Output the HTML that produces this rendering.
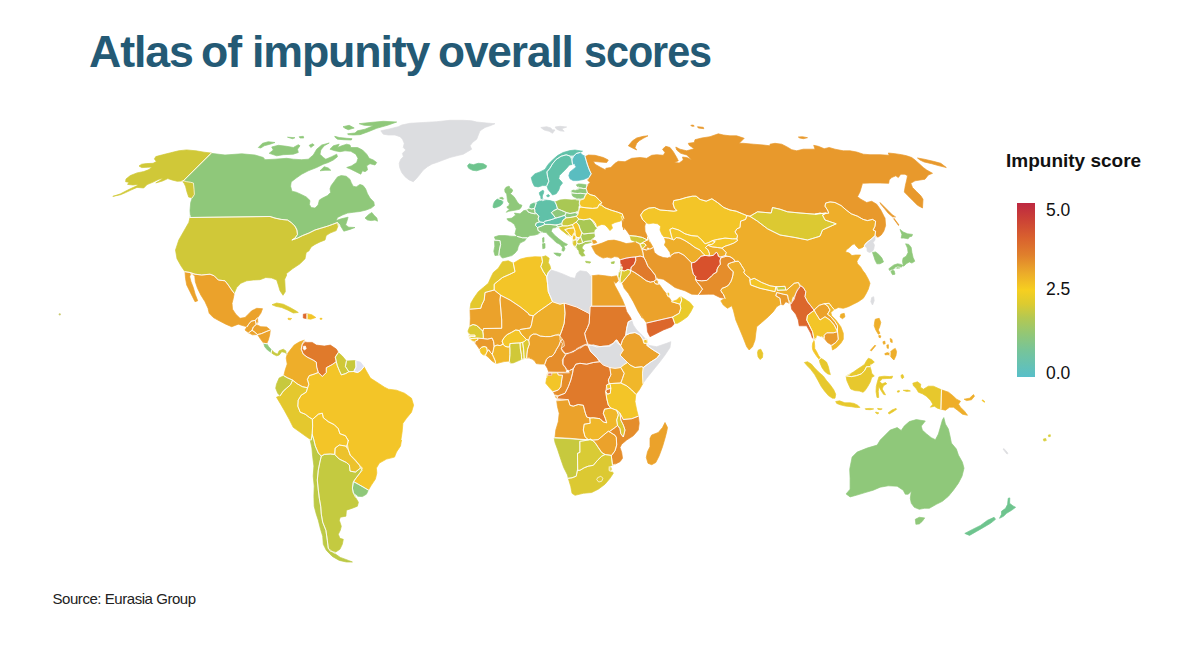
<!DOCTYPE html>
<html><head><meta charset="utf-8"><title>Atlas of impunity overall scores</title>
<style>
html,body{margin:0;padding:0;background:#fff;}
body{width:1200px;height:648px;position:relative;overflow:hidden;font-family:"Liberation Sans",sans-serif;}
#title{position:absolute;left:89px;top:24px;font-size:43.5px;font-weight:bold;color:#245a75;letter-spacing:-1.1px;white-space:nowrap;line-height:56px;}
#title span{position:absolute;top:0;transform-origin:0 0;display:block;}
#lt{position:absolute;left:1006px;top:149px;font-size:19px;font-weight:bold;color:#111;white-space:nowrap;line-height:24px;}
#bar{position:absolute;left:1016.5px;top:203px;width:18.5px;height:174px;background:linear-gradient(to bottom,#bd2841 0%,#cc4335 10%,#d9612e 20%,#e0802c 30%,#ebaa2a 40%,#f6cf20 50%,#dccb30 58%,#b4c852 66%,#93c775 75%,#76c49a 85%,#58bfc9 100%);}
.lb{position:absolute;left:1046px;font-size:17.5px;color:#111;line-height:20px;}
#src{position:absolute;left:52.5px;top:589px;font-size:15px;color:#222;white-space:nowrap;line-height:20px;letter-spacing:-0.45px;}
svg{position:absolute;left:0;top:0;}
</style></head><body>
<div id="title"><span style="left:-0.13px;transform:scaleX(1.0273)">Atlas</span><span style="left:111.95px;transform:scaleX(1.0263)">of</span><span style="left:162.82px;transform:scaleX(1.0282)">impunity</span><span style="left:349.47px;transform:scaleX(1.0163)">overall</span><span style="left:495.1px;transform:scaleX(0.9504)">scores</span></div>
<div id="lt">Impunity score</div>
<div id="bar"></div>
<div class="lb" style="top:200px">5.0</div>
<div class="lb" style="top:278.5px">2.5</div>
<div class="lb" style="top:362.5px">0.0</div>
<div id="src">Source: Eurasia Group</div>
<svg width="1200" height="648" viewBox="0 0 1200 648" stroke-linejoin="round">
<path d="M585 156.7L588.3 155L595 155.3L603.3 157.5L608.3 160L606.7 162.5L600 162L593.3 161.3L595 164.2L600.8 167.5L605.8 170L605.8 168.3L610.8 167.5L615 163.3L618.3 161.3L625 161.7L631.7 158.3L640 157.5L646.7 158.3L651.7 155.3L656.7 154.7L663.3 155.3L665 152.5L662.5 149.2L665.8 146.3L670 147.5L673.3 151.7L676.7 157.5L678.3 160.8L674.2 162.5L679.2 163L683.3 160L682.5 157L686.7 157.5L691.7 159.7L686.7 155L680.8 153.3L676.7 150L675.8 147L680 149.2L686.7 150.8L694.2 148.7L689.2 145.3L688.3 143.3L694.2 142.5L695 139.7L701.7 138L710 136.7L718.3 133.8L723.3 135L730 135.8L736.7 135.8L744.2 138.3L739.2 143.3L743.3 143.3L753.3 144.2L763.3 145L770 145.8L770 144.2L775 143.3L781.7 144.2L786.7 146.7L791.7 149.7L796.7 150.8L803.3 149.2L810 149.2L815 149.2L813.7 145.3L818.3 146.3L824.2 148.7L829.2 147.5L835 149.2L843.3 150.8L850 150.8L856.7 152L863.3 154.2L870 154.7L880 154.7L889.2 155.3L888.3 153L895 153.7L901.7 154.7L906.7 155.8L911.7 157.5L915 160L919.2 163.7L923.3 167.5L926.7 170L932.5 173.3L928.3 175L925 179.2L920 180L915 180.8L910.8 183.3L912.5 187.5L916.7 191.7L920.8 195.8L923 199.2L922.5 208L917.5 205.3L912.5 200.3L907.5 195.3L904.3 192L905.3 185.8L906.7 180L907.5 175.8L905 174.2L900.8 174.2L898.3 177.5L895.8 175.8L891.7 177.5L889.2 180L888.7 183.3L880 183L870 183L862.5 183.3L860 191.7L857.5 196.7L860.8 199.2L866.7 202.5L871.7 201.3L876.7 204.2L880.8 210L884.2 216.7L885 218L885.6 225.6L883.8 231.2L881.2 235L877.5 237.5L875 235.6L875.6 231.2L873.1 230L875 226.2L875.6 221.2L872.5 219.4L867.5 220.6L863.1 219.4L857.5 216.2L851.2 213.8L846.2 210L841.2 205.6L835 202.5L830 201.9L825.6 203.1L825 206.2L827.5 210L828.8 213.1L823.8 213.8L820 213.1L815 214.2L800 213L787.5 211.8L780 209.2L772.5 207.5L771.2 213L757.5 211.8L750 216.2L746.9 215.6L742.5 213.8L736.2 211.2L730 210L723.8 207.5L717.5 202.5L711.9 198.8L706.2 201.2L700 199.4L696.2 196.2L692.5 196.2L686.2 197.5L680 199.4L673.8 200.6L673.1 203.8L674.4 208.1L676.9 210.6L673.8 211.2L667.5 210.6L660 210L654.4 207.5L648.8 208.1L643.8 210.6L640.6 215L642.5 219.4L645.6 222.5L644.8 226.2L645 231.2L647.5 236.9L647.5 240L642.5 237.5L636.2 236.2L630 235.6L626.2 230L622.5 226.2L622.5 220L621.2 216.2L623.8 230L622.5 225L623.8 218.1L622.5 215L622.5 214L617.5 212.1L611.2 210.2L605 207.8L601.5 205.2L599 204.6L601.9 202.8L598.8 199.6L595 195.9L590 194.6L587.2 192.5L586.2 188.1L587.5 185L590 182.5L587.5 180L589.4 176.9L591.2 173.8L589.4 170L587.5 165L586.2 160.6Z" fill="#e8992c" stroke="#e8992c" stroke-width="0.7"/>
<path d="M210.8 153.3L225 155L241.7 153.8L255 155L263.3 157.5L265 159.7L275 159.2L286.7 158.3L293.3 159.2L301.7 159.7L308.3 159.2L313.3 155L316.7 149.2L321.7 145L329.2 143L324.2 145.8L320.8 150L320 154.2L323.3 157.5L325.8 159.2L331.7 156.7L336.7 154.2L337.5 156.7L333.3 160L328.3 162.5L323.3 164.2L316.7 167.5L308.3 170.8L301.7 174.2L296.2 178.1L291.2 181.9L290.6 186.2L291.9 191.2L296.2 192.2L301.2 194.4L306.2 196.9L310 200.6L309.4 204.4L311.2 207.5L315 208.1L318.1 205L319.4 200L322.5 198.1L327.5 195.6L330.6 192.5L330 188.8L331.2 185.6L334.4 181.2L337.5 176.9L341.2 175.6L346.2 176.2L350 179.4L351.2 182.5L353.1 186.2L356.2 186.9L360 184.4L363.1 185.6L365.6 188.8L367.5 193.8L370 198.1L373.8 201.9L374.4 205.6L371.2 208.1L366.2 210L360 211.5L353.8 212.2L347.5 213.1L342.5 215L337.5 217.5L336.2 220.6L341.2 218.8L348.1 217.2L346.9 221.2L345.6 225L348.8 227.2L355 227.5L350 229.4L343.8 231.2L341.9 228.1L340 225L337.5 222.5L332.5 224.4L327.5 226.2L321.2 228.1L315 230L308.8 233.1L302.5 235.6L297.5 238.1L291.9 240L295 238.1L297.5 234.4L296.9 230L295 226.2L291.2 222.5L287.5 220L281.2 219.4L275 218.1L270 216.5L190 217.5L190.4 215.9L190 210.5L190.7 202.5L192.3 197.8L194.4 194.4L194 189.1L193.4 183L190.7 182.3L186.6 181.7L183.3 180.7Z" fill="#8fc87a" stroke="#8fc87a" stroke-width="0.7"/>
<path d="M269.2 153.3L273.3 150L271.7 147L278.3 145.3L286.7 146.3L293.3 147.5L298.3 144.7L300 145.8L297.5 149.2L298.3 152.5L293.3 154.2L283.3 154.7L276.7 155.8Z" fill="#8fc87a" stroke="#8fc87a" stroke-width="0.7"/>
<path d="M258.3 147.5L262.5 143.3L268.3 141.7L275 142.5L270 144.2L264.2 145.8L260.8 148Z" fill="#8fc87a" stroke="#8fc87a" stroke-width="0.7"/>
<path d="M309.2 145.3L312.5 143.7L314.2 145L310.8 147.5Z" fill="#8fc87a" stroke="#8fc87a" stroke-width="0.7"/>
<path d="M287.5 137.2L295 137.7L292.5 138.7Z" fill="#8fc87a" stroke="#8fc87a" stroke-width="0.7"/>
<path d="M299.2 136.7L303.3 136.3L303.7 138L300 138Z" fill="#8fc87a" stroke="#8fc87a" stroke-width="0.7"/>
<path d="M330 149.2L333.3 145.8L339.2 144.2L337.5 147.5L341.7 145.8L346.7 144.2L350 145L350.8 147.5L357.5 147.5L362.5 150L366.7 154.2L369.2 158.3L373.3 160L376.7 162.5L375 165L370 163.7L366.7 165.8L367.5 170L365 171.7L362.5 170.8L360.8 174.2L355.8 171.7L350.8 169.2L346.7 167.5L351.7 165.8L356.7 162.5L358 158.3L355.8 154.2L350.8 151.3L345 150.8L340 151.7L335 150.8Z" fill="#8fc87a" stroke="#8fc87a" stroke-width="0.7"/>
<path d="M320 170.8L324.2 166.7L328.3 168L330.8 170.3L325 170.3Z" fill="#8fc87a" stroke="#8fc87a" stroke-width="0.7"/>
<path d="M359.2 123.7L370 122.5L383.3 121.3L396.7 122L388.3 125L376.7 128.3L368.3 131.7L360 134.7L353.3 135L348.3 134.7L347.5 133.8L355 133L357.5 130.8L365 129.2L373.3 125.8L364.2 125.3Z" fill="#8fc87a" stroke="#8fc87a" stroke-width="0.7"/>
<path d="M343 126.7L349.2 125.3L354.2 128L348.3 129.7L345 128.3Z" fill="#8fc87a" stroke="#8fc87a" stroke-width="0.7"/>
<path d="M334.7 136.3L339.2 137.5L346.7 138.3L352 138.7L351.3 140L343.3 139.7L337.5 139.2L335.3 137.5Z" fill="#8fc87a" stroke="#8fc87a" stroke-width="0.7"/>
<path d="M365 218.1L368.8 214.4L371.9 212.5L373.8 215L376.9 218.1L377.5 221.2L375 220L371.2 220.6L367.5 220Z" fill="#8fc87a" stroke="#8fc87a" stroke-width="0.7"/>
<path d="M211.5 153.1L204.1 152.2L196 150.8L186.6 149.9L178.6 150.8L170.5 152.8L162.5 154.8L155.8 156.6L154.4 158.9L156.4 161.5L153.1 163.3L146.4 163.6L141.7 164.2L139 166L141.7 167.6L147.7 167.3L151.7 166.9L149.1 169.6L143.7 171.6L137 172.9L130.3 175.6L126 179L125.6 181.7L128.9 182.3L127.6 184.4L132.9 185L138.3 184.4L136.3 186.1L130.3 188.8L124.9 191.5L120.2 194L112.8 196.4L120.6 194.7L125.6 192.6L130.9 190.1L137 187.4L143.7 188L147.1 184.6L153.1 182.1L158.5 179.4L163.2 177.9L159.8 180.6L155.8 182.9L162.5 181L167.8 178.6L171.9 179.9L177.2 181.3L181.9 181L183.3 180.7L186.6 181.7L190.7 182.3L193.4 183L194 189.1L194.4 194.4L192.3 197.8L188.7 197.1L186.9 191.7L185.6 186.4L184 183L182.6 181.7Z" fill="#d0c838" stroke="#d0c838" stroke-width="0.7"/>
<path d="M190 217.5L270 216.5L275 218.1L281.2 219.4L287.5 220L291.2 222.5L295 226.2L296.9 230L297.5 234.4L295 238.1L291.9 240L297.5 238.1L302.5 235.6L308.8 233.1L315 230L321.2 228.1L327.5 226.2L332.5 224.4L337.5 222.5L338.1 225.6L336.2 230.6L330 233.1L326.2 235.6L325 240L320 241.9L315 244.4L311.2 246.9L308.8 251L306.2 252.5L305 258.8L300 263.8L292.5 268.8L286.2 273.8L286.7 275L284.7 279.2L285 285L285.3 291.7L283 295.3L280 290.8L278.3 285L276.7 280L271.7 278L265.8 277.5L260 279.7L253.3 280L246.7 280.8L240.8 283.3L236.7 287.5L234.2 293.3L231.7 290L228.3 285L225 280.8L218.3 280L214.2 275.8L210 274.2L201.7 275L195 274.2L190 272.5L185 271.7L181.2 266.2L177 258.8L175.5 250L178.8 240L183.8 231.2L188.8 222.5Z" fill="#d0c838" stroke="#d0c838" stroke-width="0.7"/>
<path d="M185 271.7L190 272.5L195 274.2L201.7 275L210 274.2L214.2 275.8L218.3 280L225 280.8L228.3 285L231.7 290L234.2 293.3L233.3 298.3L232 303.3L232.5 309.2L235.8 314.2L240 318.3L245 317.5L248.3 314.2L251.7 310.8L256.7 308.3L262.5 308.7L260.8 313.3L257.5 317.8L255.3 320.3L251.2 321.2L248.7 324.2L247 326.7L243.3 325.8L238.3 324.2L231.7 326.7L225.8 324.2L219.2 320.8L213.3 317.5L209.2 313.3L208 308.3L205 301.7L200.8 295L197.5 288.3L195.3 281.7L194.8 276.3L192.8 274L190.7 273.7L189.7 276.7L191 281.7L193.3 287.5L195.2 294.2L197.7 300.8L195 301.7L192.5 296.7L190 291.7L186.7 285L185.5 278.3Z" fill="#eba22b" stroke="#eba22b" stroke-width="0.7"/>
<path d="M247 326.7L248.7 324.2L251.2 321.2L255.3 320.3L256.2 324.5L253.3 327L252 330.3L248.7 332.8L245 330Z" fill="#eba22b" stroke="#eba22b" stroke-width="0.7"/>
<path d="M255.3 320.3L257.5 317.8L257.8 322.5L256.2 324.5Z" fill="#eba22b" stroke="#eba22b" stroke-width="0.7"/>
<path d="M253.3 327L256.2 324.5L260.8 326.7L266.7 327L270.3 330L267 331.2L261.2 333.7L257.5 334.5L254.2 331.7L252 330.3Z" fill="#eba22b" stroke="#eba22b" stroke-width="0.7"/>
<path d="M248.7 332.8L252 330.3L254.2 331.7L257.5 334.5L252.5 334.8Z" fill="#eba22b" stroke="#eba22b" stroke-width="0.7"/>
<path d="M257.5 334.5L261.2 333.7L267 331.2L270.3 330L269.7 335L268.3 340L266.7 343.7L263.7 343.3L260 338.3Z" fill="#eba22b" stroke="#eba22b" stroke-width="0.7"/>
<path d="M263.7 343.3L266.7 343.7L268.7 346.7L271.7 350L271.2 352.5L267.5 350L264.7 346.7Z" fill="#8fc87a" stroke="#8fc87a" stroke-width="0.7"/>
<path d="M271.7 350L274.2 352.5L277.5 354.2L279.2 350.8L283.3 349.2L286.3 351.3L287 354.2L285 352.5L281.7 351.7L279.2 355L276.7 355.8L273.3 354.2L271.2 352.5Z" fill="#c7c93e" stroke="#c7c93e" stroke-width="0.7"/>
<path d="M272 304.7L276.7 303L283.3 304.2L290 307.5L295.8 310.8L298.3 312.5L293.3 313L287.5 310L281.7 307.5L275.8 306.3Z" fill="#dcc932" stroke="#dcc932" stroke-width="0.7"/>
<path d="M303.3 314.2L307 313.7L307 318.7L303.3 318Z" fill="#dc672c" stroke="#dc672c" stroke-width="0.7"/>
<path d="M307 313.7L311.7 314.7L315.8 317.5L310.8 319.2L307 318.7Z" fill="#f3c528" stroke="#f3c528" stroke-width="0.7"/>
<path d="M288 318.2L291.7 318.5L290.3 319.8L288.3 319.5Z" fill="#f3c528" stroke="#f3c528" stroke-width="0.7"/>
<path d="M320 318.3L322 318.3L322 319.2L320 319.2Z" fill="#f3c528" stroke="#f3c528" stroke-width="0.7"/>
<path d="M309.2 375.7L314.2 374.1L318.3 372.5L322.3 376.5L326.3 372.5L326.3 367.7L332.3 364.5L336.3 361.7L337.3 365.7L339.3 370.5L341.3 374.9L345.8 373.5L348.8 371.7L353.8 371.5L357.6 372.5L360.8 370.5L364 366.7L366.4 371.1L370.4 378.1L378.4 383.2L384.5 387.2L388.5 389.2L396.5 390.2L404.5 393.2L411.5 398.2L413.6 405.2L411.5 412.2L406.5 418.3L402.9 423.3L402.1 432.3L400.5 442.3L396.5 450.4L388.5 456.4L382.5 460L401.5 440L400.5 446L396.5 452L394.5 457.1L386.5 459.1L379.4 463.1L376.4 468.1L376.8 473.1L375.4 479.1L371.4 485.1L368.4 490.1L364 487.5L358.8 484.5L353.8 481.5L356 478.1L360.4 472.1L362.4 468.1L359.4 465.1L355.4 460.1L350.4 455.1L348.4 450L347.4 444L348.4 440L348.4 440.7L345.4 435.7L339.9 433.7L338.3 428.7L334.3 424.7L328.3 421.7L323.3 417.7L322.3 413.2L318.3 414.2L312.6 419.3L309.2 417.3L305.2 414.2L300.2 412.2L297.8 406.2L298.2 400.2L301.2 395.2L306.2 392.2L307.6 387.8L308.8 384.2L307.4 379.4Z" fill="#f3c528" stroke="#f3c528" stroke-width="0.7"/>
<path d="M287.2 354.1L290.2 350.1L294.2 345.1L299.2 342L304.6 340L302.2 344L301.2 349.1L303.2 354.1L307.2 357.1L313.2 360.1L316.3 362.1L316.7 367.1L318.3 372.5L314.2 374.1L309.2 375.7L307.4 379.4L308.8 384.2L307.6 387.8L302.2 386.6L297.2 383.8L292.6 380.1L287.2 377.7L283.8 375.7L285.2 370.1L287.2 364.1L286.2 358.1Z" fill="#eeae2a" stroke="#eeae2a" stroke-width="0.7"/>
<path d="M304.6 342L307.2 342.4L312.2 342.4L316.3 345.1L324.3 346.1L330.3 345.1L336.3 349.1L338.3 352.5L335.3 357.1L336.3 361.7L332.3 364.5L326.3 367.7L326.3 372.5L322.3 376.5L318.3 372.5L316.7 367.1L316.3 362.1L313.2 360.1L307.2 357.1L303.2 354.1L301.2 349.1L302.2 344.4Z" fill="#e07a2b" stroke="#e07a2b" stroke-width="0.7"/>
<path d="M303.4 346.4L305.4 346.1L306.2 348.5L304.6 350.1L303.2 348.9Z" fill="#ffffff" stroke="#ffffff" stroke-width="0.7"/>
<path d="M338.3 352.5L342.3 356.1L346.4 361.1L345.4 366.5L348.8 371.7L345.8 373.5L341.3 374.9L339.3 370.5L337.3 365.7L336.3 361.7L335.3 357.1Z" fill="#d0c838" stroke="#d0c838" stroke-width="0.7"/>
<path d="M346.4 361.1L355.4 360.5L356 367.1L353.8 371.5L348.8 371.7L345.4 366.5Z" fill="#c7c93e" stroke="#c7c93e" stroke-width="0.7"/>
<path d="M356 361.1L360.4 362.1L364 366.7L360.8 370.5L357.6 372.5L353.8 371.5L356 367.1Z" fill="#dfe1f0" stroke="#dfe1f0" stroke-width="0.7"/>
<path d="M276.5 384.2L279.1 378.1L283.8 375.7L287.2 377.7L292.6 380.1L290.6 384.6L286.6 388.2L283.2 391.2L280.1 395.8L277.7 393.2L275.7 388.2Z" fill="#c7c93e" stroke="#c7c93e" stroke-width="0.7"/>
<path d="M280.1 395.8L283.2 391.2L286.6 388.2L290.6 384.6L292.6 380.1L297.2 383.8L302.2 386.6L307.6 387.8L306.2 392.2L301.2 395.2L298.2 400.2L297.8 406.2L300.2 412.2L305.2 414.2L309.2 417.3L312.6 419.3L312.6 426.3L312.2 434.3L311.2 439.9L307.2 437.3L300.2 432.3L293.2 427.3L289.2 419.3L284.2 410.2L280.1 403.2L276.5 397.2Z" fill="#e4c82e" stroke="#e4c82e" stroke-width="0.7"/>
<path d="M312.6 419.3L318.3 414.2L322.3 413.2L323.3 417.7L328.3 421.7L334.3 424.7L338.3 428.7L339.9 433.7L345.4 435.7L348.4 440.7L348.4 440L347.4 444.4L345.4 446L339.3 445L335.3 448L334.3 454.4L330.3 454L324.3 454.4L321.3 456.1L318.3 453L315.3 446L313.9 440L312.2 434.3L312.6 426.3Z" fill="#f3c528" stroke="#f3c528" stroke-width="0.7"/>
<path d="M335.3 448L339.3 445L345.4 446L348.4 450L350 455.1L354.8 460.1L359.4 465.1L360.4 468.1L355.4 472.1L350 471.1L349.4 465.1L346.4 462.5L339.3 459.1L335.3 455.1Z" fill="#ecc22c" stroke="#ecc22c" stroke-width="0.7"/>
<path d="M311.2 439.9L312.2 434.3L313.9 440L315.3 446L318.3 453L321.3 456.1L319.9 462.1L318.3 470.1L317.3 480.1L318.3 490.1L319.3 498.2L320.7 506.2L321.3 514.2L322.7 522.2L325.9 530.3L327.3 540.3L328.3 548.3L334.3 553.3L340.3 557.4L348.4 560.4L352.4 562L346.4 562L339.3 560.4L332.3 556.4L326.3 550.3L323.3 544.3L322.7 536.3L320.3 528.3L318.3 520.2L316.3 514.2L314.2 506.2L313.9 496.2L314.2 486.1L313.2 476.1L313.9 466.1L312.6 456.1L311.9 448L310.2 440Z" fill="#bcc945" stroke="#bcc945" stroke-width="0.7"/>
<path d="M321.3 456.1L324.3 454.4L330.3 454L334.3 454.4L335.3 455.1L339.3 459.1L346.4 462.5L349.4 465.1L350 471.1L355.4 472.1L360.4 468.1L362.4 470.1L358.4 475.1L354.4 480.1L353.4 481.7L352.4 488.1L353.4 493.2L355.4 497.2L358.4 502.2L357.4 506.2L352.4 508.2L346.4 510.2L345.9 516.2L340.3 517.2L339.3 520.2L341.3 526.3L340.3 530.3L338.3 534.3L339.9 538.3L343.3 539.3L342.3 544.3L339.9 549.3L335.3 552.3L330.3 551.3L328.3 548.3L327.3 540.3L325.9 530.3L322.7 522.2L321.3 514.2L320.7 506.2L319.3 498.2L318.3 490.1L317.3 480.1L318.3 470.1L319.9 462.1Z" fill="#c4ca40" stroke="#c4ca40" stroke-width="0.7"/>
<path d="M353.4 481.7L358.8 484.5L364 487.5L368.4 490.1L366.4 494.2L362.4 496.6L357.4 496.2L353.4 493.2L352.4 488.1Z" fill="#8fc87a" stroke="#8fc87a" stroke-width="0.7"/>
<path d="M59.1 313.8L60.3 313.8L60.3 315L59.1 315Z" fill="#c9c96a" stroke="#c9c96a" stroke-width="0.7"/>
<path d="M502.5 261.7L508.3 260.8L513.3 263.3L515 271.7L510 274.2L502.5 277.5L498.3 280.8L494.2 284.2L494.2 290L485 292.5L484.2 300L481.7 305L480.8 308.3L470 309.2L470.8 303.3L474.2 297.5L478.3 291.7L483.3 287.5L488.3 283.3L490.8 277.5L493.3 272.5L498.3 268.3L500.8 264.2Z" fill="#e4c82e" stroke="#e4c82e" stroke-width="0.7"/>
<path d="M513.3 263.3L520 259.2L526.7 257.5L535 256.7L541.7 257L542.5 261.7L540.8 266.7L543.3 271.7L546.7 276.7L547.5 283.3L548.3 291.7L550.8 297.5L552.5 301.7L546.7 305.8L538.3 311.7L533.3 315.8L529.2 315L528.3 313.3L520 306.7L510 300L500.8 295.3L494.2 290L494.2 284.2L498.3 280.8L502.5 277.5L510 274.2L515 271.7Z" fill="#f3c528" stroke="#f3c528" stroke-width="0.7"/>
<path d="M541.7 257L545.8 255.8L549.2 258.3L548.3 262.5L550 265.8L550.8 269.2L548.3 272.5L546.7 276.7L543.3 271.7L540.8 266.7L542.5 261.7Z" fill="#dcc932" stroke="#dcc932" stroke-width="0.7"/>
<path d="M546.7 276.7L548.3 272.5L550.8 270L556.7 271.7L563.3 274.2L570.8 277.5L575 278.3L576.7 273.3L580 270.8L586.7 271.7L590 275L591.7 275.8L591.7 305.8L590 306.7L589.7 313.7L576.7 307L564.2 303L560 304.2L552.5 301.7L550.8 297.5L548.3 291.7L547.5 283.3Z" fill="#dcdde0" stroke="#dcdde0" stroke-width="0.7"/>
<path d="M591.7 275.8L598.3 275L605 275.8L611.7 276.7L616.7 275.8L618.3 280.8L615.8 283.3L613.3 280.8L615 285.8L618.3 291.7L622.5 300L625 306.2L591.7 306.2Z" fill="#eba22b" stroke="#eba22b" stroke-width="0.7"/>
<path d="M591.7 306.2L625 306.2L626.7 311.7L630 316.7L631.7 320L628.3 321.7L626.7 328.3L625.8 335L622.5 340L620.8 345.3L617.5 343.3L615.8 340L613.3 343.3L610 346.2L603.3 346.2L596.7 347L591.7 345.3L587.5 343.7L585.8 338.3L584.7 333.3L587.5 327.5L589.2 323.3L589.7 313.7L590 306.7Z" fill="#e07a2b" stroke="#e07a2b" stroke-width="0.7"/>
<path d="M564.2 303L576.7 307L589.7 313.7L589.2 323.3L587.5 327.5L584.7 333.3L585.8 338.3L587.5 343.7L583.3 345.3L576.7 348.7L570 352L565 353L561.3 348.7L562.5 343.7L560 340L560 335.3L562 330L564.2 323.3L565 313.3Z" fill="#e07a2b" stroke="#e07a2b" stroke-width="0.7"/>
<path d="M533.3 315.8L538.3 311.7L546.7 305.8L552.5 301.7L560 304.2L564.2 303L565 313.3L564.2 323.3L562 330L560 335.3L555.3 335.1L550.3 336.6L545.3 336.6L540.3 336.1L536.2 334.1L533.2 334.1L530.2 336.1L528.7 340.1L526.4 339.6L524.2 337.1L521.2 334.1L519.2 330.5L520.2 329.5L526.2 328.5L530.2 328L531.7 324L531.7 323.3Z" fill="#eeae2a" stroke="#eeae2a" stroke-width="0.7"/>
<path d="M500.8 295.3L510 300L520 306.7L528.3 313.3L529.2 315L533.3 315.8L531.7 323.3L531.7 324L530.2 328L526.2 328.5L520.2 329.5L519.2 330.5L515.7 330L511.2 332.5L507.2 334.6L504.1 337.6L502.1 341.1L503.1 344.1L500.1 345.6L497.1 345.1L494.1 346.3L493.6 341.6L492.1 338.1L487.6 339.1L483.3 338.6L483.3 335.1L482.9 331L483.6 328.5L501.7 328.3L501.7 320L500 300Z" fill="#eba22b" stroke="#eba22b" stroke-width="0.7"/>
<path d="M470 309.2L480.8 308.3L481.7 305L484.2 300L485 292.5L494.2 290L500.8 295.3L500 300L501.7 320L501.7 328.3L483.6 328.5L482.9 331L482.6 331L480.1 328.5L476.6 325.5L473 324.5L470 326L470.3 318.3Z" fill="#eba22b" stroke="#eba22b" stroke-width="0.7"/>
<path d="M468 331L470 326L473 324.5L476.6 325.5L480.1 328.5L482.6 331L483.3 335.1L483.3 338.6L477.6 338.1L471 338.6L469 336.6L475.1 336.6L474.9 335.1L470 335.1L468.5 333Z" fill="#dcc932" stroke="#dcc932" stroke-width="0.7"/>
<path d="M469 336.6L475.1 336.6L474.9 335.1L470 335.1L468.8 335.2Z" fill="#f3c528" stroke="#f3c528" stroke-width="0.7"/>
<path d="M469.5 337.8L471 338.6L477.6 338.1L477.9 339.8L475.1 341.3L472 340.6L470 339.1Z" fill="#f3c528" stroke="#f3c528" stroke-width="0.7"/>
<path d="M475.1 341.3L477.9 339.8L477.6 338.1L483.3 338.6L487.6 339.1L492.1 338.1L493.6 341.6L494.1 346.3L493.3 350.3L492.3 354.3L490.3 352.3L488.9 349.8L487.3 351.1L486.6 347.3L484.1 346.5L481.6 347.3L479.6 349.3L477.1 345.6L475.1 343.1Z" fill="#e8992c" stroke="#e8992c" stroke-width="0.7"/>
<path d="M479.6 349.3L481.6 347.3L484.1 346.5L486.6 347.3L487.3 351.1L485.6 354.9L483.6 355.3L481.1 353.1Z" fill="#f3c528" stroke="#f3c528" stroke-width="0.7"/>
<path d="M485.6 354.9L487.3 351.1L488.9 349.8L490.3 352.3L492.3 354.3L493.8 357.6L495.3 361.1L495.6 363.3L492.1 361.1L488.6 357.6Z" fill="#eeae2a" stroke="#eeae2a" stroke-width="0.7"/>
<path d="M492.3 354.3L493.3 350.3L494.1 346.3L497.1 345.1L500.1 345.6L503.1 344.1L505.1 346.3L508.2 347.1L509.7 346.3L509.9 349.1L509.9 354.6L509.4 361.1L504.1 361.6L500.1 362.6L496.1 363.6L495.6 363.3L495.3 361.1L493.8 357.6Z" fill="#f0b72a" stroke="#f0b72a" stroke-width="0.7"/>
<path d="M503.1 344.1L502.1 341.1L504.1 337.6L507.2 334.6L511.2 332.5L515.7 330L519.2 330.5L521.2 334.1L524.2 337.1L526.4 339.6L524.2 341.6L522.7 342.3L520.2 342.9L516.2 343.1L509.9 343.6L509.7 346.3L508.2 347.1L505.1 346.3Z" fill="#f3c528" stroke="#f3c528" stroke-width="0.7"/>
<path d="M509.9 343.6L516.2 343.1L520.2 342.9L520.4 349.1L521.4 354.6L521.6 359.3L517.7 361.1L513.2 362.9L510.2 363.1L509.4 361.1L509.9 354.6L509.9 349.1L509.7 346.3Z" fill="#d0c838" stroke="#d0c838" stroke-width="0.7"/>
<path d="M520.2 342.9L522.7 342.3L523.6 349.1L523.9 354.6L524.2 358.6L521.6 359.3L521.4 354.6L520.4 349.1Z" fill="#dcc932" stroke="#dcc932" stroke-width="0.7"/>
<path d="M522.7 342.3L524.2 341.6L526.4 339.6L528.7 340.1L529.4 344.1L527.6 349.1L526.9 354.1L526.6 358.3L524.2 358.6L523.9 354.6L523.6 349.1Z" fill="#dcc932" stroke="#dcc932" stroke-width="0.7"/>
<path d="M528.7 340.1L530.2 336.1L533.2 334.1L536.2 334.1L540.3 336.1L545.3 336.6L550.3 336.6L555.3 335.1L558.8 334.1L560.3 336.6L562.3 339.1L560.3 341.6L559 345.3L556.5 349.3L554.5 353.3L552 356.3L549 356.8L546.5 359.3L544.8 364.1L540.3 364.1L536.2 363.6L534.8 361.1L532.2 359.1L529.2 358.1L526.6 358.3L526.9 354.1L527.6 349.1L529.4 344.1Z" fill="#eba22b" stroke="#eba22b" stroke-width="0.7"/>
<path d="M560.3 341.6L562.3 339.1L563.8 341.6L564.3 346.1L561.3 348.1L562.3 351.1L565.4 354.6L563.8 357.6L562.3 360.1L562.8 364.1L565.4 367.2L566.5 370.7L564.3 372.2L556.3 372.2L548.8 372L547.3 368.2L544.8 364.1L546.5 359.3L549 356.8L552 356.3L554.5 353.3L556.5 349.3L559 345.3Z" fill="#e58d2b" stroke="#e58d2b" stroke-width="0.7"/>
<path d="M547.5 373.3L557.5 372.8L558.3 375L562.5 375.3L561.7 380L560.8 386.7L558.3 390L553.3 391.7L550 388.3L545.8 383.3L546.7 377.5Z" fill="#f3c528" stroke="#f3c528" stroke-width="0.7"/>
<path d="M548.3 372.7L551.8 372.7L551.8 375.2L548.1 375.2Z" fill="#dc672c" stroke="#dc672c" stroke-width="0.7"/>
<path d="M557.5 372.8L569.2 372.8L570 370.3L573.3 368.7L572.5 373.3L570.8 380L568.3 386.7L565 393.3L558.3 395.8L555 395L553.3 391.7L558.3 390L560.8 386.7L561.7 380L562.5 375.3L558.3 375Z" fill="#e58d2b" stroke="#e58d2b" stroke-width="0.7"/>
<path d="M565.8 355L573.3 352.5L580 348.3L585 345L588.3 345.8L590.8 351.7L596.7 357.5L600 361.7L593.3 362.5L586.7 364.2L580 363.3L575.8 364.2L573.3 368.7L570 370.3L566.7 369.2L563 365L563.3 358.3Z" fill="#e07a2b" stroke="#e07a2b" stroke-width="0.7"/>
<path d="M588.3 345.8L593.3 345L600 346.7L608.3 345.8L613.3 343.3L616.7 340L620 345L623.3 350L620 355L623.3 358.3L627.5 362.5L623.3 365L620.8 367.5L615 368.3L610 367.5L603.3 365L600 361.7L596.7 357.5L590.8 351.7Z" fill="#dcdde0" stroke="#dcdde0" stroke-width="0.7"/>
<path d="M620.8 345.3L622.5 340.3L625.8 335.3L630 333.3L635 332.5L640 335L643.3 340L644.2 343.3L647.5 343.3L648.3 346.7L646.7 345L653.3 350L660 354.2L656.7 358.3L650 362.5L643.3 367.5L641.7 366.7L635 367.5L630 365L627.5 362.5L623.3 358.3L620 355L623.3 350L620 345L616.7 340Z" fill="#eba22b" stroke="#eba22b" stroke-width="0.7"/>
<path d="M626.7 328.3L628.3 322L631.7 320.3L633.3 325L636.7 330L641.7 335L645 338.3L646.7 339.2L643.3 340L640 335L635 332.5L630 333.3L625.8 335Z" fill="#dcdde0" stroke="#dcdde0" stroke-width="0.7"/>
<path d="M643.3 340L646.7 339.2L647.5 343.3L644.2 343.3Z" fill="#f3c528" stroke="#f3c528" stroke-width="0.7"/>
<path d="M646.7 345L656.7 346.7L666.7 343.3L670.8 341.7L670 347.5L665 355L660 361.7L653.3 370L646.7 378.3L643 383.3L642.5 373.3L643.3 367.5L650 362.5L656.7 358.3L660 354.2L653.3 350L648.3 346.7L647.5 343.3Z" fill="#dcdde0" stroke="#dcdde0" stroke-width="0.7"/>
<path d="M620.8 367.5L623.3 365L627.5 362.5L630 365L635 367.5L641.7 366.7L643.3 367.5L642.5 373.3L643 383.3L639.2 390L635.8 394.2L631.7 390L626.7 385.8L620.8 383L622.5 378.3L624.2 373.3Z" fill="#f0b72a" stroke="#f0b72a" stroke-width="0.7"/>
<path d="M610 367.5L615 368.3L620.8 367.5L624.2 373.3L622.5 378.3L620.8 383L615 383.3L609.2 383.7L608.3 380L610.8 375Z" fill="#eba22b" stroke="#eba22b" stroke-width="0.7"/>
<path d="M573.3 368.7L575.8 364.2L580 363.3L586.7 364.2L593.3 362.5L600 361.7L603.3 365L610 367.5L610.8 375L608.3 380L609.2 383.7L606.7 385L605.8 391.7L606.7 398.3L608.3 405L610.8 408L604.5 409.2L603.3 413.3L605.3 418.3L606.7 422.8L603.3 422L600 418.7L593.3 417.8L590 418L586.7 417L585 412L583.3 405.3L578.3 404.5L573.3 406.2L570 405.3L568.3 399.7L556.7 398.7L558.3 395.8L565 393.3L568.3 386.7L570.8 380L572.5 373.3Z" fill="#e07a2b" stroke="#e07a2b" stroke-width="0.7"/>
<path d="M606.7 385L609.2 383.7L610.3 384.7L610.8 388.3L607.5 389.2Z" fill="#f3c528" stroke="#f3c528" stroke-width="0.7"/>
<path d="M606.7 389.7L610.8 388.3L610.3 393.3L607.5 394.2L605.8 391.7Z" fill="#e07a2b" stroke="#e07a2b" stroke-width="0.7"/>
<path d="M609.2 383.7L615 383.3L620.8 383L626.7 385.8L631.7 390L635.8 394.2L635 401.7L636.7 410L638.3 416.2L631.7 418.7L623.3 419.5L620 413.3L616.7 410.3L610.8 408L608.3 405L606.7 398.3L605.8 391.7L607.5 394.2L610.3 393.3L610.8 388.3L610.3 384.7Z" fill="#f3c528" stroke="#f3c528" stroke-width="0.7"/>
<path d="M556.7 400.8L568.3 399.7L570 405.3L573.3 406.2L578.3 404.5L583.3 405.3L585 412L586.7 417L590 418L590 423.3L584.2 424.2L583.3 430L585 436.7L588.3 439.7L580 439.2L570 438.3L555 437.5L555.8 430L558.3 421.7L559.2 413.3L557.5 406.7Z" fill="#eba22b" stroke="#eba22b" stroke-width="0.7"/>
<path d="M555 395.8L557.5 396.7L556.7 398.7Z" fill="#eba22b" stroke="#eba22b" stroke-width="0.7"/>
<path d="M590 418L593.3 417.8L600 418.7L603.3 422L606.7 422.8L605.3 418.3L603.3 413.3L604.5 409.2L610.8 408L616.7 410.3L618.3 415L616.7 420L617.5 425.3L615.8 427L609.2 431.7L608.3 431.2L603.3 435.3L598.3 439.5L593.3 440L590.8 440L588.3 439.7L585 436.7L583.3 430L584.2 424.2L590 423.3Z" fill="#f0b72a" stroke="#f0b72a" stroke-width="0.7"/>
<path d="M616.7 410.3L620 413.3L620.8 420L623.3 425L625 430L623.3 437L620.8 433.7L620 428.7L617.5 425.3L616.7 420L618.3 415Z" fill="#dcc932" stroke="#dcc932" stroke-width="0.7"/>
<path d="M623.3 419.5L631.7 418.7L638.3 416.2L639.2 423.3L638.3 430L633.3 435.8L626.7 440L621.7 444.2L620 447.5L621.7 452.5L622.5 458.3L620 461.7L615 464.2L612.5 465L611.3 455.8L615 450.8L616.7 445L616.3 437.5L615 435.3L609.2 431.7L615.8 427L617.5 425.3L620 428.7L620.8 433.7L623.3 437L625 430L623.3 425L620.8 420L620 413.3Z" fill="#e58d2b" stroke="#e58d2b" stroke-width="0.7"/>
<path d="M598.3 439.5L603.3 435.3L608.3 431.2L609.2 431.7L615 435.3L616.3 437.5L616.7 445L615 450.8L611.3 455.8L610.8 455.3L605 454.5L601.7 452.5L598.3 447.5L595 442.5L590.8 439.2L590.8 440L593.3 440Z" fill="#eba22b" stroke="#eba22b" stroke-width="0.7"/>
<path d="M554.2 438L569.2 438.7L579.2 439.5L588.3 439.5L590.8 439.2L586.7 440.3L580 441.3L579.7 452.5L577.5 453.3L577.5 470L576.2 476.2L572 477.8L568.3 478.3L567.5 475L563.7 467.5L560.8 459.2L557.5 449.2L555 442.5Z" fill="#c7c93e" stroke="#c7c93e" stroke-width="0.7"/>
<path d="M580 441.3L586.7 440.3L590.8 439.2L595 442.5L598.3 447.5L601.7 452.5L605 454.5L601.7 456.2L597.5 460.3L593.3 465.3L588.3 466.2L584.2 467.8L580 470.3L577.8 470.3L577.5 453.3L579.7 452.5Z" fill="#d9cb35" stroke="#d9cb35" stroke-width="0.7"/>
<path d="M577.8 470.3L580 470.3L584.2 467.8L588.3 466.2L593.3 465.3L597.5 460.3L601.7 456.2L605 454.5L610.8 455.3L611.3 455.8L612.5 465L609.2 466.7L609.2 470.8L612.5 471.7L613.3 473.3L610 478.3L605 484.2L598.3 489.2L591.7 492.5L583.3 493.3L575 495.3L572 493.3L570.8 486.7L568.3 478.3L572 477.8L576.2 476.2L577.5 470Z" fill="#dcc932" stroke="#dcc932" stroke-width="0.7"/>
<path d="M598 477.5L600.8 476.3L603 478.3L601.7 481.3L598.7 482L597 480Z" fill="#dcc932" stroke="#dcc932" stroke-width="0.7"/>
<path d="M609.2 467.3L611.3 467.7L611.7 469.8L610 470.8L608.8 469.3Z" fill="#ead868" stroke="#ead868" stroke-width="0.7"/>
<path d="M665 422.5L667.5 427.5L666.7 431.7L665 438.3L662.5 446.7L659.2 455.8L655.8 462.5L651.7 464.7L648 463.3L646.3 457.5L647.5 451.7L650 446.7L650 438.3L651.7 435L658.3 432.5L662.5 427.5Z" fill="#eba22b" stroke="#eba22b" stroke-width="0.7"/>
<path d="M380.8 130.8L388.3 129.2L398.3 126.7L401.7 125L410 123.3L423.3 122.5L436.7 121.7L450 120.3L463.3 120.3L471.7 120.8L476.7 122L486.7 123L495 123.7L490 125.8L485 127.5L480 130.8L478.3 135L476.7 139.2L472.5 142.5L470 145.8L471.7 149.2L467.5 151.7L463.3 154.2L456.7 155.8L450 157.5L443.3 160L436.7 162.5L431.7 164.2L427.5 166.7L423.3 170L420 174.2L416.7 178.3L413.3 181.7L409.2 180L405 176.7L401.7 172.5L399.7 167.5L399.2 163.3L400.8 159.2L403.3 156.7L402.5 153.3L405.8 150L403.3 147.5L404.2 143.3L402.5 139.2L400 136.7L395 135L388.3 135L383.3 134.2Z" fill="#dcdde0" stroke="#dcdde0" stroke-width="0.7"/>
<path d="M467.5 165.8L469.2 163.7L473.3 164.7L478.3 163.3L483.3 163.7L486.7 165.8L485.8 168L481.7 169.2L476.7 170.8L472.5 170.3L468.7 168.3Z" fill="#6ec48e" stroke="#6ec48e" stroke-width="0.7"/>
<path d="M540.8 127.5L546.7 126.7L550.8 128L552.5 129.7L555 130L552.5 133.3L549.2 131.3L544.2 130Z" fill="#dcdde0" stroke="#dcdde0" stroke-width="0.7"/>
<path d="M555 127L560 126.3L566.7 127L561.7 128.7L564.2 131.3L560 130.8L556.7 129.2Z" fill="#dcdde0" stroke="#dcdde0" stroke-width="0.7"/>
<path d="M531.2 177.5L535 173.8L540 171.9L545 169.4L548.1 164.4L552.5 160L557.5 155.6L563.1 152.5L570 150.6L575 150L582.5 151.2L580 152.5L576.2 153.5L573.8 156L570 156L566.2 154.8L561.2 156.2L556.2 159.4L552.5 163.8L550 168.1L546.9 171.9L547.5 176.2L548.8 181.2L546.9 185.6L542.5 185.6L538.1 186.9L534.4 186.2L532.5 182.5Z" fill="#60c1a8" stroke="#60c1a8" stroke-width="0.7"/>
<path d="M547.5 176.2L546.9 171.9L550 168.1L552.5 163.8L556.2 159.4L561.2 156.2L566.2 154.8L570 156L571.9 160L572.5 164.4L569.4 165L566.2 168.8L562.5 172.5L559.4 175.6L558.8 178.8L561.2 181.2L562.5 183.1L560 186.2L558.8 190L556.2 193.8L552.5 195L550.6 192.5L548.1 189.4L546.9 185.6L548.8 181.2Z" fill="#60c1a8" stroke="#60c1a8" stroke-width="0.7"/>
<path d="M573.8 156L576.2 153.5L580 152.5L582.5 155L585 156.2L586.2 160.6L587.5 165L589.4 170L591.2 173.8L589.4 176.9L583.8 179.4L577.5 180.6L573.1 180.6L570 178.8L568.8 175.6L570 171.9L573.1 169.4L576.2 166.9L574.4 164.4L572.5 164.4L571.9 160Z" fill="#5abdc0" stroke="#5abdc0" stroke-width="0.7"/>
<path d="M539.2 192.8L540.7 191.6L542.9 190.3L543.8 191L543.5 193.4L542.6 195L542.3 197.1L542.9 199L543.8 200.5L542 200.7L541 199L540.7 196.5L539.8 195Z" fill="#60c1a8" stroke="#60c1a8" stroke-width="0.7"/>
<path d="M546.6 195.4L548.5 194.5L549.6 195.6L549 196.7L547.1 196.7Z" fill="#60c1a8" stroke="#60c1a8" stroke-width="0.7"/>
<path d="M576.4 184.8L578.5 183.9L581.6 184.1L584.7 184.5L586.7 185.1L586.4 187.3L585.8 188.5L583.5 188.6L581 188L578.5 187.9L578.5 187L577 186.1Z" fill="#8fc87a" stroke="#8fc87a" stroke-width="0.7"/>
<path d="M571.1 191.3L573 190.1L575.4 190.4L577.9 189.6L578.5 187.9L581 188L583.5 188.6L585.8 188.5L586.7 190.4L587.3 192.5L587.5 193L585.9 193.9L583.5 193.6L580.4 193.3L577.3 193.5L574.2 193.2L571.7 192.7Z" fill="#8fc87a" stroke="#8fc87a" stroke-width="0.7"/>
<path d="M571.7 194.4L571.7 192.7L574.2 193.2L577.3 193.5L580.4 193.3L583.5 193.6L585.9 193.9L586.2 194.1L585 195.6L584.1 197.5L582.8 198.8L580.4 199.1L577.9 198.8L575.4 197.6L573 196.4Z" fill="#8fc87a" stroke="#8fc87a" stroke-width="0.7"/>
<path d="M580 200.2L584 199L585.2 195.9L587.2 192.5L590 194.6L595 195.9L598.8 199.6L601.9 202.8L599 204.6L597.5 207.8L592.5 208.4L586.2 207.8L581.2 207.1L579.4 203.8Z" fill="#f3c528" stroke="#f3c528" stroke-width="0.7"/>
<path d="M579.4 208.1L581.2 207.1L586.2 207.8L592.5 208.4L597.5 207.8L599 204.6L601.5 205.2L605 207.8L611.2 210.2L617.5 212.1L622.5 214L622.5 215L623.8 218.1L620 221.2L615 222.5L611.2 224.4L612.5 228.1L610 230.6L607.5 227.5L605 225L601.9 224.4L598.8 225.6L596.2 226.9L595.6 223.8L593.1 220.6L590 218.8L583.8 219.8L578.8 219.1L576.2 216.2L578.1 214.4L578.8 210.6L579.4 206.2Z" fill="#f3c528" stroke="#f3c528" stroke-width="0.7"/>
<path d="M590 218.8L593.1 220.6L595.6 223.8L596.2 226.9L595 225L592.5 221.2Z" fill="#f3c528" stroke="#f3c528" stroke-width="0.7"/>
<path d="M555 202.1L560 200L565 199.4L571.9 200L576.2 199.8L580 200.2L579.4 203.8L579.4 208.1L579.4 206.2L578.8 210.6L575 212.5L570 213.5L566.2 212.5L561.9 210.6L557.5 208.8L556.2 204.4Z" fill="#a9c854" stroke="#a9c854" stroke-width="0.7"/>
<path d="M536.2 202.8L540 200.6L542.5 199.4L545 200L550 200.6L555 202.1L556.2 204.4L557.5 208.8L553.8 210.6L551.5 212.5L553.8 215.6L555.6 218.1L553.8 218.8L550 220L545 221.2L543.8 222.5L539.4 221.9L538.1 218.8L538.8 216.2L536.9 213.8L534.8 211.9L534.8 210.2L534.4 208.5L535 206.9Z" fill="#60c1a8" stroke="#60c1a8" stroke-width="0.7"/>
<path d="M530.6 204.4L534.4 202.8L536.2 203.1L535 206.9L534.4 208.5L531.2 209L529.4 207.8Z" fill="#6ec48e" stroke="#6ec48e" stroke-width="0.7"/>
<path d="M526.9 210.2L529.4 208.5L531.2 209L534.4 208.5L534.8 210.2L534.8 211.9L534.8 213.8L531.2 213.1L528.1 211.9Z" fill="#8fc87a" stroke="#8fc87a" stroke-width="0.7"/>
<path d="M551.5 212.5L553.8 210.6L557.5 208.8L561.9 210.6L566.2 212.5L565 215.2L560 216.9L555.6 218.1L553.8 215.6Z" fill="#8fc87a" stroke="#8fc87a" stroke-width="0.7"/>
<path d="M565 215.2L566.2 212.5L570 213.5L575 212.5L578.1 214.4L576.2 216.2L575 216.5L570 217.5L566.2 217.8Z" fill="#8fc87a" stroke="#8fc87a" stroke-width="0.7"/>
<path d="M545 221.2L550 220L553.8 218.8L555.6 218.1L560 216.9L565 215.2L566.2 217.8L563.1 220L561.9 223.1L561.2 223.8L556.2 225L555 225L550 224.4L545 224.4L543.8 222.5Z" fill="#60c1a8" stroke="#60c1a8" stroke-width="0.7"/>
<path d="M536.2 223.1L539.4 221.9L543.8 222.5L545 224.4L541.2 226.2L537.5 227.5L535.6 225.6Z" fill="#60c1a8" stroke="#60c1a8" stroke-width="0.7"/>
<path d="M563.1 220L566.2 217.8L570 217.5L575 216.5L576.2 216.2L578.8 219.1L576.2 222.1L572.5 224.6L567.5 225.9L562.5 225.9L561.9 223.1Z" fill="#c7c93e" stroke="#c7c93e" stroke-width="0.7"/>
<path d="M556.2 225L561.2 223.8L562.5 225.9L558.8 226.9Z" fill="#8fc87a" stroke="#8fc87a" stroke-width="0.7"/>
<path d="M558.8 226.9L562.5 225.9L567.5 225.9L572.5 224.6L573.8 227.8L568.8 228.4L565 229.6L567.5 232.2L570 235.4L572.5 237.2L567.5 235L563.8 231.9L560.6 229.4Z" fill="#dcc932" stroke="#dcc932" stroke-width="0.7"/>
<path d="M565 229.6L568.8 228.4L573.8 227.8L575 231.2L573.1 234.4L572.5 237.2L570 235.4L567.5 232.2Z" fill="#f3c528" stroke="#f3c528" stroke-width="0.7"/>
<path d="M572.5 224.6L576.2 222.1L578.8 225L580 228.8L581.9 232.8L580.6 236.9L578.8 237.5L577.5 237.5L575.6 235.9L575 231.2L573.8 227.8Z" fill="#f3c528" stroke="#f3c528" stroke-width="0.7"/>
<path d="M572.5 237.2L573.1 234.4L575.6 235.9L576.2 237.5L576.2 239.8L573.1 240.2Z" fill="#f3c528" stroke="#f3c528" stroke-width="0.7"/>
<path d="M576.2 237.5L578.8 237.5L578.1 240.2L576.9 240.6L576.2 239.8Z" fill="#dcdde0" stroke="#dcdde0" stroke-width="0.7"/>
<path d="M573.1 240.2L576.2 239.8L576.9 240.6L577.1 243.4L575.6 246.9L573.8 245.6L572.8 242.5Z" fill="#dcc932" stroke="#dcc932" stroke-width="0.7"/>
<path d="M576.9 240.6L578.1 240.2L580.6 236.9L581.9 240.2L582.8 242.8L579 244L577.1 243.4Z" fill="#c7c93e" stroke="#c7c93e" stroke-width="0.7"/>
<path d="M576.2 222.1L578.8 219.1L583.8 219.8L590 218.8L592.5 221.2L595 225L596.9 228.1L594.4 230L593.8 233L588.8 233.4L583.8 234L581.9 232.8L580 228.8L578.8 225Z" fill="#a9c854" stroke="#a9c854" stroke-width="0.7"/>
<path d="M581.9 232.8L583.8 234L588.8 233.4L593.8 233L594.8 236.2L592.5 238.8L591.9 240L590.2 240.9L585.2 241.5L582.8 242.8L581.9 240.2L580.6 236.9Z" fill="#a9c854" stroke="#a9c854" stroke-width="0.7"/>
<path d="M575.6 246.9L577.1 243.4L579 244L582.8 242.8L585.2 241.5L590.2 240.9L591.9 241.9L588.8 243.1L585 243.8L583.1 245.6L581.9 248.1L584.4 250.6L583.1 252.5L585 255.6L581.9 256.2L579.4 253.8L578.8 250.6L576.9 248.8Z" fill="#a9c854" stroke="#a9c854" stroke-width="0.7"/>
<path d="M585.6 261.2L590.6 261.9L590 263.1L586 262.5Z" fill="#a9c854" stroke="#a9c854" stroke-width="0.7"/>
<path d="M538.1 230.6L537.5 227.5L541.2 226.2L545 224.4L550 224.4L555 225L556.2 225L558.8 226.9L556.2 227.5L552.5 228.1L551.2 231.2L554.4 235L558.8 238.8L563.8 242.5L567.5 244.4L566.2 245.6L563.8 245.6L565 248.8L563.8 251.2L561.9 250.6L562.5 247.5L560 244.4L556.2 242.5L552.5 238.8L548.8 235.6L546.2 232.5L542.5 232.2L541.2 232.2Z" fill="#8fc87a" stroke="#8fc87a" stroke-width="0.7"/>
<path d="M553.8 253.1L557.5 253.1L561.2 253.8L560 256.2L556.9 255.6Z" fill="#8fc87a" stroke="#8fc87a" stroke-width="0.7"/>
<path d="M542.5 243.8L545 243.5L545 248.1L542.8 248.8Z" fill="#8fc87a" stroke="#8fc87a" stroke-width="0.7"/>
<path d="M542.5 238.1L544 237.5L544 241.9L542.8 242.5Z" fill="#8fc87a" stroke="#8fc87a" stroke-width="0.7"/>
<path d="M506.9 218.8L511.9 218.1L515.6 215L514.4 213.1L520 213.8L523.8 210.6L526.9 210.2L528.1 211.9L531.2 213.1L534.8 213.8L536.9 213.8L538.8 216.2L538.1 218.8L539.4 221.9L536.2 223.1L535.6 225.6L537.5 227.5L538.1 230.6L541.2 232.2L538.8 233.8L535 235L530 235.6L526.9 237.5L522.5 237.8L517.5 236.5L515 233.8L516.2 228.8L514.4 224.4L511.2 221.9L508.1 220.6Z" fill="#8fc87a" stroke="#8fc87a" stroke-width="0.7"/>
<path d="M494.4 236.9L498.8 235.6L505 235.6L511.2 236.2L517.5 236.5L522.5 237.8L526.5 238.1L525 240.6L520 243.1L518.1 246.9L517.5 250L515 253.1L511.9 255.6L506.9 256.9L502.5 258.1L500.6 256.2L498.8 255L499.4 250L500.6 244.4L500 240.6L495.6 240Z" fill="#8fc87a" stroke="#8fc87a" stroke-width="0.7"/>
<path d="M494.4 240.6L500 240.6L500.6 244.4L499.4 250L498.8 255L495 255.6L493.8 251.2L494.8 246.2Z" fill="#8fc87a" stroke="#8fc87a" stroke-width="0.7"/>
<path d="M611.2 262.2L614.4 261.6L614 263.5L611.5 263.5Z" fill="#a9c854" stroke="#a9c854" stroke-width="0.7"/>
<path d="M493 207.3L493.3 204.7L494.3 202L496 200L498.3 198.7L500 199.3L502.3 200L503 201.3L502.7 203.3L501.3 205L499.3 206.3L496.7 207.3L494.3 207.9Z" fill="#6ec48e" stroke="#6ec48e" stroke-width="0.7"/>
<path d="M498.3 198.7L500 197.5L502.3 197.3L503.9 198.7L503 200L502.3 200L500 199.3Z" fill="#8fc87a" stroke="#8fc87a" stroke-width="0.7"/>
<path d="M504.7 189.3L506 187.3L508.7 186.3L510 187L509.3 188.3L511.3 188.7L512.7 190L512 192L510.3 193.7L512 195L514 196.7L515.7 199.3L517.3 202L519.3 204.3L522 205.3L521 207.7L519.3 209.3L516 210L512 210.7L508.7 211.3L506.3 212.3L508 210.3L510 209.3L507.3 208L507 206.7L509 205.7L509.3 203.3L508 202L507.3 199.3L507 196.7L506.7 194L505 192Z" fill="#8fc87a" stroke="#8fc87a" stroke-width="0.7"/>
<path d="M628.3 145.8L632.5 140.8L636.7 138L643.3 136.3L648 135.8L643.3 138.3L639.2 140.8L636.7 143.3L635 147.5L636.7 150L632.5 148Z" fill="#e8992c" stroke="#e8992c" stroke-width="0.7"/>
<path d="M697.5 126.7L703.3 127.3L703.8 128.7L698.3 128Z" fill="#e8992c" stroke="#e8992c" stroke-width="0.7"/>
<path d="M690.8 125.3L693.3 125L694.2 126.2L691.7 126.2Z" fill="#e8992c" stroke="#e8992c" stroke-width="0.7"/>
<path d="M798.3 137L802.5 136.7L807.5 137.7L803.3 138.7L799.7 138Z" fill="#e8992c" stroke="#e8992c" stroke-width="0.7"/>
<path d="M880 202.5L882.5 205L887.5 210L892.5 215L895.8 217L893.3 217.5L888.3 213.3L884.2 208.3L880.8 204.2Z" fill="#e8992c" stroke="#e8992c" stroke-width="0.7"/>
<path d="M893.8 218.1L899 225L898.5 225.4L893.4 218.5Z" fill="#e8992c" stroke="#e8992c" stroke-width="0.7"/>
<path d="M917.5 158L924.2 159.2L933.3 161.3L940.8 163.3L946.3 167.5L939.2 165.8L931.7 163.7L924.2 162L920 160Z" fill="#e8992c" stroke="#e8992c" stroke-width="0.7"/>
<path d="M640.6 215L643.8 210.6L648.8 208.1L654.4 207.5L660 210L667.5 210.6L673.8 211.2L676.9 210.6L674.4 208.1L673.1 203.8L673.8 200.6L680 199.4L686.2 197.5L692.5 196.2L696.2 196.2L700 199.4L706.2 201.2L711.9 198.8L717.5 202.5L723.8 207.5L730 210L736.2 211.2L742.5 213.8L746.9 215.6L745.6 219.4L740.6 221.2L740 227.5L736.9 228.8L735 231.9L737.5 235.6L736.9 238.8L732.5 238.8L725 238.1L717.5 239.4L712.5 240.6L708.8 242.5L705 243.8L701.9 240L697.5 236.2L691.2 235.6L685 233.8L678.8 230L672.5 228.1L670 229.4L671.2 235L672.5 239.4L668.8 238.1L664.4 237.5L661.9 234.4L660 230L660.6 226.2L657.5 223.8L653.1 223.1L648.8 223.8L645.6 222.5L642.5 219.4Z" fill="#f3c528" stroke="#f3c528" stroke-width="0.7"/>
<path d="M670 229.4L672.5 228.1L678.8 230L685 233.8L691.2 235.6L697.5 236.2L701.9 240L705 243.8L708.8 242.5L712.5 240.6L715 241.9L711.9 244.4L708.1 245L705.6 247.5L708.1 250L709.4 253.5L709.1 255.9L705 255.4L703.8 254.4L700 250L695 247.5L690 243.8L685 240.6L680 238.1L676.2 237.5L673.8 240L672.5 239.4L671.2 235Z" fill="#f3c528" stroke="#f3c528" stroke-width="0.7"/>
<path d="M664.4 237.5L668.8 238.1L672.5 239.4L673.8 240L676.2 237.5L680 238.1L685 240.6L690 243.8L695 247.5L700 250L703.8 254.4L705 255.4L700.9 256.2L698.4 259.1L695 262.1L691.6 262.9L688.8 260L683.8 255L678.8 252.5L674.4 253.1L670.6 255.6L670 252.5L667.5 248.8L664.4 245L665.6 241.9Z" fill="#eeae2a" stroke="#eeae2a" stroke-width="0.7"/>
<path d="M712.5 240.6L717.5 239.4L725 238.1L732.5 238.8L736.9 238.8L737.5 240.6L733.8 243.1L728.8 245L725 246.2L721.9 248.1L717.5 247.5L712.5 246.9L710 246.2L708.1 245L711.9 244.4L715 241.9Z" fill="#f3c528" stroke="#f3c528" stroke-width="0.7"/>
<path d="M705.6 247.5L708.1 245L710 246.2L712.5 246.9L717.5 247.5L721.9 248.1L723.8 250L726.2 252.5L725.4 255.4L723.4 256.2L720 257.1L718.4 256.2L717.9 254.1L716.6 252.4L715 253.4L713.4 255.4L709.1 255.9L709.4 253.5L708.1 250Z" fill="#eeae2a" stroke="#eeae2a" stroke-width="0.7"/>
<path d="M630 235.6L636.2 236.2L642.5 237.5L647.5 240L645 241.2L640.6 243.8L636.2 241.9L631.2 240Z" fill="#d0c838" stroke="#d0c838" stroke-width="0.7"/>
<path d="M640.6 243.8L643.8 243.1L646.2 245L643.8 247.5L642.5 248.8L641.2 246.2Z" fill="#dcc932" stroke="#dcc932" stroke-width="0.7"/>
<path d="M645 241.2L647.5 240L647.5 236.9L650 241.9L653.1 247.5L650.6 248.8L647.5 246.9L646.2 250L642.5 248.8L643.8 247.5L646.2 245L643.8 243.1L640.6 243.8Z" fill="#eba22b" stroke="#eba22b" stroke-width="0.7"/>
<path d="M591.6 246.1L596.1 245.1L602.1 243.1L608.1 240.6L614.1 240.1L620.2 241.6L626.2 243.6L631.2 242.9L636.2 242.1L639.7 244.1L641.2 248.1L643.2 253.1L643.7 257.1L640.2 256.1L635.7 256.9L631.2 257.3L626.2 258.1L620.7 259.6L618.2 257.1L614.6 256.6L611.1 258.1L607.1 257.1L603.1 258.1L599.1 256.1L595.6 253.6L593.6 250.1Z" fill="#eba22b" stroke="#eba22b" stroke-width="0.7"/>
<path d="M591.9 240L595.6 240.6L596.9 242.5L593.1 243.8L591.9 241.9Z" fill="#eba22b" stroke="#eba22b" stroke-width="0.7"/>
<path d="M620.7 259.6L626.2 258.1L631.2 257.3L635.7 256.9L635.7 260.6L634.2 264.6L631.2 267.1L630.7 270.4L627.9 269.4L624.7 270.9L621.7 270.6L622.2 266.9L620.7 267.1L621.2 264.6L620.7 262.6Z" fill="#d8512c" stroke="#d8512c" stroke-width="0.7"/>
<path d="M620.7 267.1L622.2 266.9L621.7 270.6L621.4 270.9L620.2 270.1Z" fill="#dcc932" stroke="#dcc932" stroke-width="0.7"/>
<path d="M619.2 272.2L620.2 270.1L621.4 270.9L621 274.2L620.2 278.2L620 282.2L619.7 281.2L618.7 277.2Z" fill="#d0c838" stroke="#d0c838" stroke-width="0.7"/>
<path d="M621.4 270.9L621.7 270.6L624.7 270.9L627.9 269.4L630.7 270.4L630.2 273.2L627.7 276.2L624.7 279.7L622.2 282.7L620 282.2L620.2 278.2L621 274.2Z" fill="#dcc932" stroke="#dcc932" stroke-width="0.7"/>
<path d="M635.7 256.9L640.2 256.1L643.7 257.1L645.8 261.1L647.8 266.1L651.3 270.1L655.3 275.2L656.3 279.4L653.8 281.4L650.3 282.2L646.2 280.7L640.2 276.2L634.2 272.2L630.7 270.4L631.2 267.1L634.2 264.6L635.7 260.6Z" fill="#e07a2b" stroke="#e07a2b" stroke-width="0.7"/>
<path d="M653.8 281.4L656.3 279.4L657.8 281.2L657.3 284.2L655.3 283.7Z" fill="#eba22b" stroke="#eba22b" stroke-width="0.7"/>
<path d="M622.2 282.7L624.7 279.7L627.7 276.2L630.2 273.2L630.7 270.4L634.2 272.2L640.2 276.2L646.2 280.7L650.3 282.2L653.8 281.4L655.3 283.7L657.3 284.2L659.2 284.2L663.3 290L666.7 294.2L669.2 297.5L671.7 301.7L680 304.2L680.8 308.3L679.2 313.3L672.5 317L646.7 323L643.3 318.3L638.3 310L633.3 300L642.5 318.3L638.3 311.7L633.3 301.7L628.3 293.3L624.2 288.3Z" fill="#eba22b" stroke="#eba22b" stroke-width="0.7"/>
<path d="M646.7 323L672.5 317L674.7 323.3L671.7 326.7L663.3 330L655 334.2L650 336.7L647.5 331.7Z" fill="#dc672c" stroke="#dc672c" stroke-width="0.7"/>
<path d="M680 304.2L681.7 300L680.8 296.7L685 299.2L690 302.5L693.3 306.7L690.8 311.7L687.5 316.7L681.7 320.8L677.5 323.3L674.7 323.3L672.5 317L679.2 313.3L680.8 308.3Z" fill="#eaca2b" stroke="#eaca2b" stroke-width="0.7"/>
<path d="M671.7 301.7L676.7 300L680 296.7L680.8 296.7L681.7 300L680 304.2Z" fill="#f3c528" stroke="#f3c528" stroke-width="0.7"/>
<path d="M667.2 293.3L668.7 293L669 295.8L667.5 296.2Z" fill="#f3c528" stroke="#f3c528" stroke-width="0.7"/>
<path d="M642.5 248.8L646.2 250L650.6 248.8L653.1 247.5L654.4 252.5L658.1 255.6L663.1 257.5L667.5 258.1L670.6 256.9L670.6 255.6L674.4 253.1L678.8 252.5L683.8 255L688.8 260L691.6 262.9L691.7 267.5L692.5 271.2L693.3 274.2L695.8 276.7L695.4 279.2L696.7 281.7L698.8 284.2L700.8 286.7L702.5 289.2L701.2 290.8L699.2 294L698.3 294.5L691.7 294.2L685 290.8L680 289.2L675 287.5L669.2 283.3L663.3 279.2L657.5 278.3L656.3 279.4L655.3 275.2L651.3 270.1L647.8 266.1L645.8 261.1L643.7 257.1L643.1 255Z" fill="#e8992c" stroke="#e8992c" stroke-width="0.7"/>
<path d="M691.7 262.9L695 262.1L698.3 259.2L700.8 256.2L705 255.4L709.2 255.8L713.3 255.4L715 253.3L716.7 252.3L717.9 254.2L718.3 256.2L720 257.1L723.3 256.2L725.4 255.4L726.7 256.2L723.3 257.1L720.8 257.9L720 260.8L720.4 264.2L718.3 266.7L717.1 269.2L716.7 272.1L713.8 273.8L711.7 275.8L709.2 278.3L706.7 280.4L701.7 280.8L697.5 280.4L695.4 279.2L695.8 276.7L693.3 274.2L692.5 271.2L691.7 267.5Z" fill="#d8512c" stroke="#d8512c" stroke-width="0.7"/>
<path d="M695.4 279.2L697.5 280.4L701.7 280.8L706.7 280.4L709.2 278.3L711.7 275.8L713.8 273.8L716.7 272.1L717.1 269.2L718.3 266.7L720.4 264.2L720 260.8L720.8 257.9L723.3 257.1L726.7 256.2L730 256.7L733.3 258.8L735.4 261.5L731.7 262.5L728.3 263.8L727.9 265.8L730 268.8L733.3 271.7L732.9 275L732.1 278.3L730.8 281.7L728.3 285.4L725.4 287.1L722.1 288.3L720.8 290.4L722.1 292.9L723.3 294L725 298.3L720 297.5L713.3 294.2L708.3 294.2L698.3 294.5L699.2 294L701.2 290.8L702.5 289.2L700.8 286.7L698.8 284.2L696.7 281.7Z" fill="#e58d2b" stroke="#e58d2b" stroke-width="0.7"/>
<path d="M735.4 261.5L738.3 261.2L740 262.9L741.7 265.8L743.3 268.3L744.6 270.4L743.8 272.5L745.8 275L750 278.3L750 280L750.8 285L760 288.3L775 291.7L775.8 286.7L776.7 286.7L777.5 290.3L785.8 290L786.7 290L794.2 283.3L798.3 282.5L800 286.7L796.7 291.7L794.2 296.7L792.5 296.7L790.8 303.3L788.3 299.2L787.5 295L783.3 294.2L776.7 292.5L775.8 295.8L780 298.3L780.8 304.2L776.7 306.7L773.3 311.7L768.3 316.7L761.7 322.5L756.7 326.7L755.8 333.3L755 340L752.5 346.7L749.2 350L746.7 346.7L743.3 338L740 330L735.8 320L733.3 310L731.7 305.8L727.5 308.3L723.3 305L720.8 300.8L725 298.3L723.3 294L722.1 292.9L720.8 290.4L722.1 288.3L725.4 287.1L728.3 285.4L730.8 281.7L732.1 278.3L732.9 275L733.3 271.7L730 268.8L727.9 265.8L728.3 263.8L731.7 262.5Z" fill="#eeae2a" stroke="#eeae2a" stroke-width="0.7"/>
<path d="M758.3 350L760.8 349.2L762.8 353.3L762.5 357.5L760 359.5L758 356.7L757.5 352.5Z" fill="#e8c62c" stroke="#e8c62c" stroke-width="0.7"/>
<path d="M750 280L754.2 278.3L761.7 282.5L770 285.8L775.8 286.7L775 291.7L760 288.3L750.8 285Z" fill="#f3c528" stroke="#f3c528" stroke-width="0.7"/>
<path d="M776.7 286.7L785 286.3L785.8 290L777.5 290.3Z" fill="#c7c93e" stroke="#c7c93e" stroke-width="0.7"/>
<path d="M776.7 292.5L783.3 294.2L787.5 295L788.3 299.2L789.2 303.3L785.8 301.7L783.3 305L780.8 304.2L780 298.3L775.8 295.8Z" fill="#e8992c" stroke="#e8992c" stroke-width="0.7"/>
<path d="M735.4 261.5L733.3 258.8L730 256.7L726.7 256.2L725.4 255.4L726.2 252.5L723.8 250L721.9 248.1L725 246.2L728.8 245L733.8 243.1L737.5 240.6L736.9 238.8L737.5 235.6L735 231.9L736.9 228.8L740 227.5L740.6 221.2L745.6 219.4L746.9 215.6L750 216.2L757.5 221.2L767.5 228.8L780 235L795 237.5L807.5 240L820 236.2L822.5 230L836.2 223.8L825 220L822.5 215L826.2 213L815 214.2L820 213.1L823.8 213.8L828.8 213.1L827.5 210L825 206.2L825.6 203.1L830 201.9L835 202.5L841.2 205.6L846.2 210L851.2 213.8L857.5 216.2L863.1 219.4L867.5 220.6L872.5 219.4L875.6 221.2L875 226.2L873.1 230L875.6 231.2L875 235.6L872.5 238.1L870 240L866.2 243.1L864.4 245.6L862.5 247.5L858.8 248.8L856.2 246.2L854.4 243.8L851.9 245L849.4 247.5L846.2 250L845.6 251.9L849.4 253.1L851.9 255.6L855.6 255L860.6 255L858.8 258.1L856.9 261.2L857.5 263.8L860.6 266.9L863.1 271L865 273.3L868.3 279.2L870 283.3L868.3 289.2L865.8 294.2L863.3 298.3L858.3 301.7L853.3 304.2L848.3 306.7L843.3 308.3L838.3 307.5L834.2 309.5L831.7 306.7L829.2 303.3L824.2 303.7L819.2 305.3L815.8 308.3L814.2 310.3L810.8 305.8L807.5 301.7L805 296.7L805.8 291.7L803.3 287.5L800.8 285.8L798.3 282.5L794.2 283.3L786.7 290L785.8 290L785 286.3L776.7 286.7L775.8 286.7L770 285.8L761.7 282.5L754.2 278.3L750 280L750 278.3L745.8 275L743.8 272.5L744.6 270.4L743.3 268.3L741.7 265.8L740 262.9L738.3 261.2Z" fill="#eeae2a" stroke="#eeae2a" stroke-width="0.7"/>
<path d="M750 216.2L757.5 211.8L771.2 213L772.5 207.5L780 209.2L787.5 211.8L800 213L815 214.2L826.2 213L822.5 215L825 220L836.2 223.8L822.5 230L820 236.2L807.5 240L795 237.5L780 235L767.5 228.8L757.5 221.2Z" fill="#dcc932" stroke="#dcc932" stroke-width="0.7"/>
<path d="M864.4 245.6L866.2 243.1L870 240L872.5 238.1L875 235.6L875 240L873.1 242.5L874.4 245L873.8 248.8L872.5 251.2L869.4 252.5L867.2 251.2L866.9 248.1Z" fill="#dcdde0" stroke="#dcdde0" stroke-width="0.7"/>
<path d="M872.5 252.5L875.6 251.9L878.8 254.4L881.9 258.1L883.5 261.9L880 263.8L876.9 263.8L875 260L873.8 256.2Z" fill="#8fc87a" stroke="#8fc87a" stroke-width="0.7"/>
<path d="M900 229.4L903.1 231.9L907.5 233.8L912.5 234.4L911.9 236.2L909.4 236.9L908.1 238.8L903.8 238.1L901.2 238.1L901.9 234.4Z" fill="#8fc87a" stroke="#8fc87a" stroke-width="0.7"/>
<path d="M905.6 243.8L908.8 244.4L911.2 247.5L911.9 252.5L913.1 257.5L914.8 261.2L911.9 263.1L909.4 261.9L906.2 263.8L903.8 266.2L901.2 264.4L897.5 263.8L893.8 265L891.2 266.9L888.8 268.8L890 271L891.9 270L895 268.1L897.5 266.9L901.2 267.5L903.1 265L902.5 261.2L903.1 258.1L906.2 256.2L908.1 252.5L907.5 248.1Z" fill="#8fc87a" stroke="#8fc87a" stroke-width="0.7"/>
<path d="M890.8 270L894.2 270.8L895 274.2L892.5 274.7L891.3 272.5Z" fill="#8fc87a" stroke="#8fc87a" stroke-width="0.7"/>
<path d="M896.7 266.7L900.8 265.8L900 268L896.7 268.3Z" fill="#8fc87a" stroke="#8fc87a" stroke-width="0.7"/>
<path d="M871.7 297.5L873.7 296.7L874.2 300.8L872.5 305L870.8 301.7Z" fill="#dcdde0" stroke="#dcdde0" stroke-width="0.7"/>
<path d="M840.8 314.2L844.2 313.3L845 316.7L842.5 318.7L840 317Z" fill="#eeae2a" stroke="#eeae2a" stroke-width="0.7"/>
<path d="M800.8 285.8L803.3 287.5L805.8 291.7L805 296.7L807.5 301.7L810.8 305.8L814.2 310.3L810.8 312.8L807.5 315.3L806.7 320L809.2 325L812.5 331.7L814.2 340L812.5 338.3L810.8 333.3L806.7 325.8L802.5 325.8L799.2 325.8L798.3 320L795.8 314.2L791.7 309.2L790.8 304.2L794.2 299.2L795.8 293.3L797.5 289.2Z" fill="#dc672c" stroke="#dc672c" stroke-width="0.7"/>
<path d="M807.5 315.3L810.8 312.8L814.2 310.3L815.8 313.3L820 320L825 316.7L830 320L834.2 325L837.5 331.7L833.3 332.8L826.7 332.8L824.2 335.3L824.2 338.3L821.7 336.7L816.7 335L815.8 338.3L814.2 340.8L814.7 345.7L814.7 348.4L816.6 351.6L818.6 355.6L820.6 358.2L819.3 359.5L816.6 356.2L814 352.3L812.7 349.7L812.3 346.4L812.7 343.1L814.2 340L812.5 331.7L809.2 325L806.7 320Z" fill="#f3c528" stroke="#f3c528" stroke-width="0.7"/>
<path d="M815.8 308.3L819.2 305.3L824.2 303.7L827.5 305.8L830 310L827.5 314.2L830.8 316.7L835 321.7L837.5 325.8L837.5 331.7L834.2 325L830 320L825 316.7L820 320L815.8 313.3L814.2 310.3Z" fill="#eba22b" stroke="#eba22b" stroke-width="0.7"/>
<path d="M824.2 303.7L829.2 303.3L831.7 306.7L834.2 309.5L830.8 312.5L831.7 315.8L835.8 320L840.8 326.7L843.3 333.3L843.3 339.2L840.8 343.3L836.7 347.5L832.5 350L831.7 345.8L835.8 342.5L838.3 339.2L837.5 331.7L837.5 325.8L835 321.7L830.8 316.7L827.5 314.2L830 310L827.5 305.8Z" fill="#f0b72a" stroke="#f0b72a" stroke-width="0.7"/>
<path d="M824.2 335.3L826.7 332.8L833.3 332.8L837.5 331.7L838.3 339.2L835.8 342.5L831.7 345L827.5 342.5L824.2 338.3Z" fill="#e8992c" stroke="#e8992c" stroke-width="0.7"/>
<path d="M819.3 359.5L820.6 358.2L823.2 359.5L826.5 362.1L828.4 366.7L829.4 371.3L830.4 374.6L827.8 373.9L824.5 371.3L821.9 367.4L819.9 362.8Z" fill="#e7c82d" stroke="#e7c82d" stroke-width="0.7"/>
<path d="M804.4 362.5L807.5 361.7L811.4 364.1L814.7 368L818.6 372L823.2 375.9L826.5 380.5L830.4 385.1L833.7 389.7L835.7 394.3L835 398.2L832.4 398.2L828.4 395.6L824.5 391L821.2 386.4L818 380.5L814.7 374.6L810.7 369.3L807.5 366.1Z" fill="#e7c82d" stroke="#e7c82d" stroke-width="0.7"/>
<path d="M835.7 401.5L839.6 400.8L844.8 402.8L850.1 402.8L854 403.4L858 405.4L859.9 407.4L856.6 407.6L851.4 406.7L845.5 406.1L840.2 404.8L836.7 403.4Z" fill="#e7c82d" stroke="#e7c82d" stroke-width="0.7"/>
<path d="M865.2 408.7L869.8 408.4L873.7 408.9L870.4 409.7L865.8 409.5Z" fill="#e7c82d" stroke="#e7c82d" stroke-width="0.7"/>
<path d="M877.6 408.4L882.2 408.9L880.2 409.7L877.9 409.3Z" fill="#e7c82d" stroke="#e7c82d" stroke-width="0.7"/>
<path d="M875.7 412L878.9 412.9L877.6 413.9L875.8 413Z" fill="#e7c82d" stroke="#e7c82d" stroke-width="0.7"/>
<path d="M888.1 412.9L892 410L896 408.4L896.6 409.3L892.7 412L889.2 413.9Z" fill="#e7c82d" stroke="#e7c82d" stroke-width="0.7"/>
<path d="M846.1 375.9L851.4 376.6L856.6 375.6L861.2 373.9L864.5 370.7L866.5 366.7L870 366.7L871.1 370L871.7 373.3L874.3 375.9L871.7 377.5L870.4 381.8L867.8 386.4L865.2 390.3L863.2 392.3L859.3 391L854.7 390.6L850.7 389L848.8 385.1L846.8 380.5Z" fill="#e7c82d" stroke="#e7c82d" stroke-width="0.7"/>
<path d="M846.1 375.9L850.1 373.9L853.4 372L857.3 369.3L861.2 366.7L864.5 364.4L866.5 360.8L868.4 358.2L871.7 359.5L874.3 362.1L871.1 364.4L870 366.7L866.5 366.7L864.5 370.7L861.2 373.9L856.6 375.6L851.4 376.6Z" fill="#e7c82d" stroke="#e7c82d" stroke-width="0.7"/>
<path d="M878.9 376.9L884.2 376.2L889.4 376.6L892.7 376.2L891.8 378.3L886.8 378.5L882.2 378.8L879.6 381.8L882.2 383.8L885.5 382.5L886.8 383.8L883.5 385.7L882.2 389L884.2 392.3L885.5 394.9L883.5 394.3L880.9 390.3L878.9 386.4L878.3 391.6L878.7 397.5L877 397.5L876 391.6L876.3 386.4L877.4 381.8Z" fill="#e7c82d" stroke="#e7c82d" stroke-width="0.7"/>
<path d="M901 375.2L902.8 374.6L903.9 377.2L902.3 378.8L901.2 377.2Z" fill="#e7c82d" stroke="#e7c82d" stroke-width="0.7"/>
<path d="M897.3 391L899.3 390.6L899.3 391.9L897.6 392.2Z" fill="#e7c82d" stroke="#e7c82d" stroke-width="0.7"/>
<path d="M903.2 390.3L907.8 390.1L910.4 391L906.5 391.4Z" fill="#e7c82d" stroke="#e7c82d" stroke-width="0.7"/>
<path d="M912.8 383.2L917.4 381.8L920.8 384.2L920.4 387.2L923.4 389.2L928.4 386.2L933.4 386.2L941.5 389.8L940.9 409.2L937.4 408.2L934.4 406.2L930.4 407.2L932.8 404.2L930.4 400.2L926.4 396.2L922.4 393.8L918.4 392.2L916 388.2L913.4 385.8Z" fill="#e7c82d" stroke="#e7c82d" stroke-width="0.7"/>
<path d="M941.5 389.8L948.5 392.2L953.5 396.2L956.5 399.2L960.5 401.2L958.5 404.2L960.5 407.2L964.5 411.2L967.5 415.3L962.5 414.2L957.5 410.2L953.5 407.2L949.5 407.2L945.5 410.2L940.9 409.2Z" fill="#eeae2a" stroke="#eeae2a" stroke-width="0.7"/>
<path d="M964.1 399.2L969.5 398.2L973.5 394.6L974.5 396.2L971.5 399.8L966.5 400.6Z" fill="#eeae2a" stroke="#eeae2a" stroke-width="0.7"/>
<path d="M982.6 399.8L985 401.8L984.2 402.2L982 400.4Z" fill="#f3c528" stroke="#f3c528" stroke-width="0.7"/>
<path d="M875.3 319.2L879.2 318.3L880.8 322.5L879.7 326.7L878.3 330L880 333.3L878.3 334.2L875.8 330L874.2 325.8L874.7 321.7Z" fill="#eeae2a" stroke="#eeae2a" stroke-width="0.7"/>
<path d="M890.1 352.3L892.7 349.7L895.3 348.4L896.6 351.6L896 355.6L894 359.9L892 358.2L890.1 355.6Z" fill="#eeae2a" stroke="#eeae2a" stroke-width="0.7"/>
<path d="M884.8 353.6L888.1 352.3L890.1 352.6L889.7 354.9L887.5 354.7L885.2 354.9Z" fill="#eeae2a" stroke="#eeae2a" stroke-width="0.7"/>
<path d="M882.9 341.8L884.8 341.1L885.2 343.8L883.5 344.2Z" fill="#eeae2a" stroke="#eeae2a" stroke-width="0.7"/>
<path d="M886.8 345.1L888.4 344.7L888.4 348.4L887.1 348.1Z" fill="#eeae2a" stroke="#eeae2a" stroke-width="0.7"/>
<path d="M890.1 338.5L892 339.4L892.3 342.5L890.7 342.1Z" fill="#eeae2a" stroke="#eeae2a" stroke-width="0.7"/>
<path d="M878.9 335.2L880.9 335.9L880.2 337.9L878.9 337.2Z" fill="#eeae2a" stroke="#eeae2a" stroke-width="0.7"/>
<path d="M870.4 350.3L875 345.1L875.7 345.7L871.3 351Z" fill="#eeae2a" stroke="#eeae2a" stroke-width="0.7"/>
<path d="M846.1 493.9L850.1 489.2L850.1 478.2L849.7 469.2L852.1 457.1L857.1 452.1L867.1 448.1L877.2 445.1L880.2 440.1L884.2 436.1L890.2 430.1L897.2 427.6L901.2 430.5L904.2 426.1L909.3 421.6L916.3 419.6L925.3 421L921.3 426.1L922.3 430.1L926.3 433.7L931.3 437.7L935.4 439.7L938.4 434.1L940.4 427.1L942.4 420L943.8 417.6L945.4 424L948.4 429.1L950 436.1L951.4 443.1L956.4 449.1L958.4 455.1L962.4 462.2L964 468.2L962 476.2L958.4 483.2L953.4 490.2L948.4 496.3L942.4 501.3L936.4 504.3L929.3 508.3L924.3 508.3L919.3 509.3L914.3 507.3L911.3 503.3L910.3 498.3L911.3 491.2L908.3 494.2L905.3 494.2L903.2 490.2L897.2 486.2L888.2 485.8L880.2 487.2L873.2 490.2L865.1 492.6L856.1 495.3L850.1 496.9Z" fill="#8fc87a" stroke="#8fc87a" stroke-width="0.7"/>
<path d="M915.3 519.3L919.3 517.3L924.7 517.9L922.3 521.3L919.3 523.9L915.9 524.3Z" fill="#8fc87a" stroke="#8fc87a" stroke-width="0.7"/>
<path d="M1008.2 498.3L1009.8 497.9L1009.6 503.3L1013 505.9L1015.6 507.3L1011.6 510.3L1006.6 513.3L1003.5 516.3L999.5 518.3L1001.5 514.3L1001.5 511.3L1005.6 508.3L1007.6 504.3Z" fill="#6ec48e" stroke="#6ec48e" stroke-width="0.7"/>
<path d="M964.8 533.4L972.5 529.4L980.5 525.4L987.5 520.3L994.1 517.3L995.5 519.3L990.5 523.3L983.5 527.4L976.5 531.4L969.5 535.4Z" fill="#6ec48e" stroke="#6ec48e" stroke-width="0.7"/>
<path d="M1003 449.1L1004.1 448.7L1008 453.3L1007 454.1Z" fill="#dcdde0" stroke="#dcdde0" stroke-width="0.7"/>
<path d="M1043.3 439.1L1045.7 438.5L1046.3 440.5L1043.9 441.1Z" fill="#d8cf3c" stroke="#d8cf3c" stroke-width="0.7"/>
<path d="M1048.3 435.1L1050.3 434.7L1050.3 436.5L1048.7 436.7Z" fill="#d8cf3c" stroke="#d8cf3c" stroke-width="0.7"/>
<path fill="none" stroke="#ffffff" stroke-opacity="0.78" stroke-width="0.9" stroke-linecap="round" d="M877.5 237.5L875 235.6L875.6 231.2L873.1 230L875 226.2L875.6 221.2L872.5 219.4L867.5 220.6L863.1 219.4L857.5 216.2L851.2 213.8L846.2 210L841.2 205.6L835 202.5L830 201.9L825.6 203.1L825 206.2L827.5 210L828.8 213.1L823.8 213.8L820 213.1L815 214.2L800 213L787.5 211.8L780 209.2L772.5 207.5L771.2 213L757.5 211.8L750 216.2L746.9 215.6L742.5 213.8L736.2 211.2L730 210L723.8 207.5L717.5 202.5L711.9 198.8L706.2 201.2L700 199.4L696.2 196.2L692.5 196.2L686.2 197.5L680 199.4L673.8 200.6L673.1 203.8L674.4 208.1L676.9 210.6L673.8 211.2L667.5 210.6L660 210L654.4 207.5L648.8 208.1L643.8 210.6L640.6 215L642.5 219.4L645.6 222.5M647.5 236.9L647.5 240L642.5 237.5L636.2 236.2L630 235.6M622.5 220L621.2 216.2M623.8 218.1L622.5 215L622.5 214L617.5 212.1L611.2 210.2L605 207.8L601.5 205.2L599 204.6L601.9 202.8L598.8 199.6L595 195.9L590 194.6L587.2 192.5L586.2 188.1L587.5 185M587.5 180L589.4 176.9L591.2 173.8L589.4 170L587.5 165L586.2 160.6L585 156.7M340 225L337.5 222.5L332.5 224.4L327.5 226.2L321.2 228.1L315 230L308.8 233.1L302.5 235.6L297.5 238.1L291.9 240L295 238.1L297.5 234.4L296.9 230L295 226.2L291.2 222.5L287.5 220L281.2 219.4L275 218.1L270 216.5L190 217.5L190.4 215.9M183.3 180.7L210.8 153.3M181.9 181L183.3 180.7L186.6 181.7L190.7 182.3L193.4 183L194 189.1L194.4 194.4L192.3 197.8M182.6 181.7L211.5 153.1M234.2 293.3L231.7 290L228.3 285L225 280.8L218.3 280L214.2 275.8L210 274.2L201.7 275L195 274.2L190 272.5L185 271.7M190 217.5L270 216.5L275 218.1L281.2 219.4L287.5 220L291.2 222.5L295 226.2L296.9 230L297.5 234.4L295 238.1L291.9 240L297.5 238.1L302.5 235.6L308.8 233.1L315 230L321.2 228.1L327.5 226.2L332.5 224.4L337.5 222.5L338.1 225.6M257.5 317.8L255.3 320.3L251.2 321.2L248.7 324.2L247 326.7M192.8 274L190.7 273.7M185 271.7L190 272.5L195 274.2L201.7 275L210 274.2L214.2 275.8L218.3 280L225 280.8L228.3 285L231.7 290L234.2 293.3M247 326.7L248.7 324.2L251.2 321.2L255.3 320.3L256.2 324.5L253.3 327L252 330.3L248.7 332.8M257.8 322.5L256.2 324.5L255.3 320.3L257.5 317.8M270.3 330L267 331.2L261.2 333.7L257.5 334.5L254.2 331.7L252 330.3L253.3 327L256.2 324.5M248.7 332.8L252 330.3L254.2 331.7L257.5 334.5M266.7 343.7L263.7 343.3M257.5 334.5L261.2 333.7L267 331.2L270.3 330M271.7 350L271.2 352.5M263.7 343.3L266.7 343.7M286.3 351.3L287 354.2M271.2 352.5L271.7 350M307 313.7L307 318.7M307 318.7L307 313.7M368.4 490.1L364 487.5L358.8 484.5L353.8 481.5L356 478.1L360.4 472.1L362.4 468.1L359.4 465.1L355.4 460.1L350.4 455.1L348.4 450L347.4 444L348.4 440L348.4 440.7L345.4 435.7L339.9 433.7L338.3 428.7L334.3 424.7L328.3 421.7L323.3 417.7L322.3 413.2L318.3 414.2L312.6 419.3L309.2 417.3L305.2 414.2L300.2 412.2L297.8 406.2L298.2 400.2L301.2 395.2L306.2 392.2L307.6 387.8L308.8 384.2L307.4 379.4L309.2 375.7L314.2 374.1L318.3 372.5L322.3 376.5L326.3 372.5L326.3 367.7L332.3 364.5L336.3 361.7L337.3 365.7L339.3 370.5L341.3 374.9L345.8 373.5L348.8 371.7L353.8 371.5L357.6 372.5L360.8 370.5L364 366.7M304.6 340L302.2 344L301.2 349.1L303.2 354.1L307.2 357.1L313.2 360.1L316.3 362.1L316.7 367.1L318.3 372.5L314.2 374.1L309.2 375.7L307.4 379.4L308.8 384.2L307.6 387.8L302.2 386.6L297.2 383.8L292.6 380.1L287.2 377.7L283.8 375.7M338.3 352.5L335.3 357.1L336.3 361.7L332.3 364.5L326.3 367.7L326.3 372.5L322.3 376.5L318.3 372.5L316.7 367.1L316.3 362.1L313.2 360.1L307.2 357.1L303.2 354.1L301.2 349.1L302.2 344.4L304.6 342M346.4 361.1L345.4 366.5L348.8 371.7L345.8 373.5L341.3 374.9L339.3 370.5L337.3 365.7L336.3 361.7L335.3 357.1L338.3 352.5M355.4 360.5L356 367.1L353.8 371.5L348.8 371.7L345.4 366.5L346.4 361.1M364 366.7L360.8 370.5L357.6 372.5L353.8 371.5L356 367.1L356 361.1M283.8 375.7L287.2 377.7L292.6 380.1L290.6 384.6L286.6 388.2L283.2 391.2L280.1 395.8M280.1 395.8L283.2 391.2L286.6 388.2L290.6 384.6L292.6 380.1L297.2 383.8L302.2 386.6L307.6 387.8L306.2 392.2L301.2 395.2L298.2 400.2L297.8 406.2L300.2 412.2L305.2 414.2L309.2 417.3L312.6 419.3L312.6 426.3L312.2 434.3L311.2 439.9M312.6 419.3L318.3 414.2L322.3 413.2L323.3 417.7L328.3 421.7L334.3 424.7L338.3 428.7L339.9 433.7L345.4 435.7L348.4 440.7L348.4 440L347.4 444.4L345.4 446L339.3 445L335.3 448L334.3 454.4L330.3 454L324.3 454.4L321.3 456.1L318.3 453L315.3 446L313.9 440L312.2 434.3L312.6 426.3ZM335.3 448L339.3 445L345.4 446L348.4 450L350 455.1L354.8 460.1L359.4 465.1L360.4 468.1L355.4 472.1L350 471.1L349.4 465.1L346.4 462.5L339.3 459.1L335.3 455.1ZM310.2 440L311.2 439.9L312.2 434.3L313.9 440L315.3 446L318.3 453L321.3 456.1L319.9 462.1L318.3 470.1L317.3 480.1L318.3 490.1L319.3 498.2L320.7 506.2L321.3 514.2L322.7 522.2L325.9 530.3L327.3 540.3L328.3 548.3L334.3 553.3M335.3 552.3L330.3 551.3L328.3 548.3L327.3 540.3L325.9 530.3L322.7 522.2L321.3 514.2L320.7 506.2L319.3 498.2L318.3 490.1L317.3 480.1L318.3 470.1L319.9 462.1L321.3 456.1L324.3 454.4L330.3 454L334.3 454.4L335.3 455.1L339.3 459.1L346.4 462.5L349.4 465.1L350 471.1L355.4 472.1L360.4 468.1L362.4 470.1L358.4 475.1L354.4 480.1L353.4 481.7L352.4 488.1L353.4 493.2L355.4 497.2M357.4 496.2L353.4 493.2L352.4 488.1L353.4 481.7L358.8 484.5L364 487.5L368.4 490.1M513.3 263.3L515 271.7L510 274.2L502.5 277.5L498.3 280.8L494.2 284.2L494.2 290L485 292.5L484.2 300L481.7 305L480.8 308.3L470 309.2M541.7 257L542.5 261.7L540.8 266.7L543.3 271.7L546.7 276.7L547.5 283.3L548.3 291.7L550.8 297.5L552.5 301.7L546.7 305.8L538.3 311.7L533.3 315.8L529.2 315L528.3 313.3L520 306.7L510 300L500.8 295.3L494.2 290L494.2 284.2L498.3 280.8L502.5 277.5L510 274.2L515 271.7L513.3 263.3M550.8 269.2L548.3 272.5L546.7 276.7L543.3 271.7L540.8 266.7L542.5 261.7L541.7 257M590 275L591.7 275.8L591.7 305.8L590 306.7L589.7 313.7L576.7 307L564.2 303L560 304.2L552.5 301.7L550.8 297.5L548.3 291.7L547.5 283.3L546.7 276.7L548.3 272.5L550.8 270M625 306.2L591.7 306.2L591.7 275.8M631.7 320L628.3 321.7L626.7 328.3L625.8 335L622.5 340L620.8 345.3L617.5 343.3L615.8 340L613.3 343.3L610 346.2L603.3 346.2L596.7 347L591.7 345.3L587.5 343.7L585.8 338.3L584.7 333.3L587.5 327.5L589.2 323.3L589.7 313.7L590 306.7L591.7 306.2L625 306.2M565 353L561.3 348.7L562.5 343.7L560 340L560 335.3L562 330L564.2 323.3L565 313.3L564.2 303L576.7 307L589.7 313.7L589.2 323.3L587.5 327.5L584.7 333.3L585.8 338.3L587.5 343.7L583.3 345.3L576.7 348.7M533.3 315.8L538.3 311.7L546.7 305.8L552.5 301.7L560 304.2L564.2 303L565 313.3L564.2 323.3L562 330L560 335.3L555.3 335.1L550.3 336.6L545.3 336.6L540.3 336.1L536.2 334.1L533.2 334.1L530.2 336.1L528.7 340.1L526.4 339.6L524.2 337.1L521.2 334.1L519.2 330.5L520.2 329.5L526.2 328.5L530.2 328L531.7 324L531.7 323.3ZM500.8 295.3L510 300L520 306.7L528.3 313.3L529.2 315L533.3 315.8L531.7 323.3L531.7 324L530.2 328L526.2 328.5L520.2 329.5L519.2 330.5L515.7 330L511.2 332.5L507.2 334.6L504.1 337.6L502.1 341.1L503.1 344.1L500.1 345.6L497.1 345.1L494.1 346.3L493.6 341.6L492.1 338.1L487.6 339.1L483.3 338.6L483.3 335.1L482.9 331L483.6 328.5L501.7 328.3L501.7 320L500 300ZM470 309.2L480.8 308.3L481.7 305L484.2 300L485 292.5L494.2 290L500.8 295.3L500 300L501.7 320L501.7 328.3L483.6 328.5L482.9 331L482.6 331L480.1 328.5L476.6 325.5L473 324.5L470 326M470 326L473 324.5L476.6 325.5L480.1 328.5L482.6 331L483.3 335.1L483.3 338.6L477.6 338.1L471 338.6L469 336.6L475.1 336.6L474.9 335.1L470 335.1L468.5 333M469 336.6L475.1 336.6L474.9 335.1L470 335.1L468.8 335.2ZM472 340.6L470 339.1L469.5 337.8L471 338.6L477.6 338.1L477.9 339.8L475.1 341.3M475.1 343.1L475.1 341.3L477.9 339.8L477.6 338.1L483.3 338.6L487.6 339.1L492.1 338.1L493.6 341.6L494.1 346.3L493.3 350.3L492.3 354.3L490.3 352.3L488.9 349.8L487.3 351.1L486.6 347.3L484.1 346.5L481.6 347.3L479.6 349.3M479.6 349.3L481.6 347.3L484.1 346.5L486.6 347.3L487.3 351.1L485.6 354.9L483.6 355.3M485.6 354.9L487.3 351.1L488.9 349.8L490.3 352.3L492.3 354.3L493.8 357.6L495.3 361.1L495.6 363.3M496.1 363.6L495.6 363.3L495.3 361.1L493.8 357.6L492.3 354.3L493.3 350.3L494.1 346.3L497.1 345.1L500.1 345.6L503.1 344.1L505.1 346.3L508.2 347.1L509.7 346.3L509.9 349.1L509.9 354.6L509.4 361.1M503.1 344.1L502.1 341.1L504.1 337.6L507.2 334.6L511.2 332.5L515.7 330L519.2 330.5L521.2 334.1L524.2 337.1L526.4 339.6L524.2 341.6L522.7 342.3L520.2 342.9L516.2 343.1L509.9 343.6L509.7 346.3L508.2 347.1L505.1 346.3ZM510.2 363.1L509.4 361.1L509.9 354.6L509.9 349.1L509.7 346.3L509.9 343.6L516.2 343.1L520.2 342.9L520.4 349.1L521.4 354.6L521.6 359.3M520.2 342.9L522.7 342.3L523.6 349.1L523.9 354.6L524.2 358.6L521.6 359.3L521.4 354.6L520.4 349.1ZM522.7 342.3L524.2 341.6L526.4 339.6L528.7 340.1L529.4 344.1L527.6 349.1L526.9 354.1L526.6 358.3L524.2 358.6L523.9 354.6L523.6 349.1ZM529.2 358.1L526.6 358.3L526.9 354.1L527.6 349.1L529.4 344.1L528.7 340.1L530.2 336.1L533.2 334.1L536.2 334.1L540.3 336.1L545.3 336.6L550.3 336.6L555.3 335.1L558.8 334.1L560.3 336.6L562.3 339.1L560.3 341.6L559 345.3L556.5 349.3L554.5 353.3L552 356.3L549 356.8L546.5 359.3L544.8 364.1M564.3 372.2L556.3 372.2L548.8 372M544.8 364.1L546.5 359.3L549 356.8L552 356.3L554.5 353.3L556.5 349.3L559 345.3L560.3 341.6L562.3 339.1L563.8 341.6L564.3 346.1L561.3 348.1L562.3 351.1L565.4 354.6L563.8 357.6L562.3 360.1L562.8 364.1L565.4 367.2L566.5 370.7M546.7 377.5L547.5 373.3L557.5 372.8L558.3 375L562.5 375.3L561.7 380L560.8 386.7L558.3 390L553.3 391.7M548.3 372.7L551.8 372.7L551.8 375.2L548.1 375.2ZM570 370.3L573.3 368.7L572.5 373.3L570.8 380L568.3 386.7L565 393.3L558.3 395.8L555 395M553.3 391.7L558.3 390L560.8 386.7L561.7 380L562.5 375.3L558.3 375L557.5 372.8L569.2 372.8M580 348.3L585 345L588.3 345.8L590.8 351.7L596.7 357.5L600 361.7L593.3 362.5L586.7 364.2L580 363.3L575.8 364.2L573.3 368.7L570 370.3M566.7 369.2L563 365L563.3 358.3L565.8 355M588.3 345.8L593.3 345L600 346.7L608.3 345.8L613.3 343.3L616.7 340L620 345L623.3 350L620 355L623.3 358.3L627.5 362.5L623.3 365L620.8 367.5L615 368.3L610 367.5L603.3 365L600 361.7L596.7 357.5L590.8 351.7ZM620.8 345.3L622.5 340.3L625.8 335.3L630 333.3L635 332.5L640 335L643.3 340L644.2 343.3L647.5 343.3L648.3 346.7L646.7 345L653.3 350L660 354.2L656.7 358.3L650 362.5L643.3 367.5L641.7 366.7L635 367.5L630 365L627.5 362.5L623.3 358.3L620 355L623.3 350L620 345L616.7 340ZM645 338.3L646.7 339.2L643.3 340L640 335L635 332.5L630 333.3L625.8 335L626.7 328.3L628.3 322L631.7 320.3M643.3 340L646.7 339.2L647.5 343.3L644.2 343.3ZM643 383.3L642.5 373.3L643.3 367.5L650 362.5L656.7 358.3L660 354.2L653.3 350L648.3 346.7L647.5 343.3L646.7 345M635.8 394.2L631.7 390L626.7 385.8L620.8 383L622.5 378.3L624.2 373.3L620.8 367.5L623.3 365L627.5 362.5L630 365L635 367.5L641.7 366.7L643.3 367.5L642.5 373.3L643 383.3M610 367.5L615 368.3L620.8 367.5L624.2 373.3L622.5 378.3L620.8 383L615 383.3L609.2 383.7L608.3 380L610.8 375ZM573.3 368.7L575.8 364.2L580 363.3L586.7 364.2L593.3 362.5L600 361.7L603.3 365L610 367.5L610.8 375L608.3 380L609.2 383.7L606.7 385L605.8 391.7L606.7 398.3L608.3 405L610.8 408L604.5 409.2L603.3 413.3L605.3 418.3L606.7 422.8L603.3 422L600 418.7L593.3 417.8L590 418L586.7 417L585 412L583.3 405.3L578.3 404.5L573.3 406.2L570 405.3L568.3 399.7L556.7 398.7L558.3 395.8L565 393.3L568.3 386.7L570.8 380L572.5 373.3ZM606.7 385L609.2 383.7L610.3 384.7L610.8 388.3L607.5 389.2ZM606.7 389.7L610.8 388.3L610.3 393.3L607.5 394.2L605.8 391.7ZM638.3 416.2L631.7 418.7L623.3 419.5L620 413.3L616.7 410.3L610.8 408L608.3 405L606.7 398.3L605.8 391.7L607.5 394.2L610.3 393.3L610.8 388.3L610.3 384.7L609.2 383.7L615 383.3L620.8 383L626.7 385.8L631.7 390L635.8 394.2M556.7 400.8L568.3 399.7L570 405.3L573.3 406.2L578.3 404.5L583.3 405.3L585 412L586.7 417L590 418L590 423.3L584.2 424.2L583.3 430L585 436.7L588.3 439.7L580 439.2L570 438.3L555 437.5M555 395.8L557.5 396.7L556.7 398.7M590 418L593.3 417.8L600 418.7L603.3 422L606.7 422.8L605.3 418.3L603.3 413.3L604.5 409.2L610.8 408L616.7 410.3L618.3 415L616.7 420L617.5 425.3L615.8 427L609.2 431.7L608.3 431.2L603.3 435.3L598.3 439.5L593.3 440L590.8 440L588.3 439.7L585 436.7L583.3 430L584.2 424.2L590 423.3ZM616.7 410.3L620 413.3L620.8 420L623.3 425L625 430L623.3 437L620.8 433.7L620 428.7L617.5 425.3L616.7 420L618.3 415ZM615 464.2L612.5 465L611.3 455.8L615 450.8L616.7 445L616.3 437.5L615 435.3L609.2 431.7L615.8 427L617.5 425.3L620 428.7L620.8 433.7L623.3 437L625 430L623.3 425L620.8 420L620 413.3L623.3 419.5L631.7 418.7L638.3 416.2M598.3 439.5L603.3 435.3L608.3 431.2L609.2 431.7L615 435.3L616.3 437.5L616.7 445L615 450.8L611.3 455.8L610.8 455.3L605 454.5L601.7 452.5L598.3 447.5L595 442.5L590.8 439.2L590.8 440L593.3 440ZM554.2 438L569.2 438.7L579.2 439.5L588.3 439.5L590.8 439.2L586.7 440.3L580 441.3L579.7 452.5L577.5 453.3L577.5 470L576.2 476.2L572 477.8L568.3 478.3M580 441.3L586.7 440.3L590.8 439.2L595 442.5L598.3 447.5L601.7 452.5L605 454.5L601.7 456.2L597.5 460.3L593.3 465.3L588.3 466.2L584.2 467.8L580 470.3L577.8 470.3L577.5 453.3L579.7 452.5ZM609.2 466.7L609.2 470.8L612.5 471.7M568.3 478.3L572 477.8L576.2 476.2L577.5 470L577.8 470.3L580 470.3L584.2 467.8L588.3 466.2L593.3 465.3L597.5 460.3L601.7 456.2L605 454.5L610.8 455.3L611.3 455.8L612.5 465M598 477.5L600.8 476.3L603 478.3L601.7 481.3L598.7 482L597 480ZM580 152.5L576.2 153.5L573.8 156L570 156L566.2 154.8L561.2 156.2L556.2 159.4L552.5 163.8L550 168.1L546.9 171.9L547.5 176.2L548.8 181.2L546.9 185.6M546.9 185.6L548.8 181.2L547.5 176.2L546.9 171.9L550 168.1L552.5 163.8L556.2 159.4L561.2 156.2L566.2 154.8L570 156L571.9 160L572.5 164.4M585 156.2L586.2 160.6L587.5 165L589.4 170L591.2 173.8L589.4 176.9M574.4 164.4L572.5 164.4L571.9 160L573.8 156L576.2 153.5L580 152.5M542.9 199L543.8 200.5L542 200.7L541 199M586.7 185.1L586.4 187.3L585.8 188.5L583.5 188.6L581 188L578.5 187.9L578.5 187M577.9 189.6L578.5 187.9L581 188L583.5 188.6L585.8 188.5L586.7 190.4L587.3 192.5L587.5 193L585.9 193.9L583.5 193.6L580.4 193.3L577.3 193.5L574.2 193.2L571.7 192.7L571.1 191.3M571.7 194.4L571.7 192.7L574.2 193.2L577.3 193.5L580.4 193.3L583.5 193.6L585.9 193.9L586.2 194.1L585 195.6L584.1 197.5L582.8 198.8L580.4 199.1L577.9 198.8M580 200.2L584 199L585.2 195.9L587.2 192.5L590 194.6L595 195.9L598.8 199.6L601.9 202.8L599 204.6L597.5 207.8L592.5 208.4L586.2 207.8L581.2 207.1L579.4 203.8ZM596.2 226.9L595.6 223.8L593.1 220.6L590 218.8L583.8 219.8L578.8 219.1L576.2 216.2L578.1 214.4L578.8 210.6L579.4 206.2L579.4 208.1L581.2 207.1L586.2 207.8L592.5 208.4L597.5 207.8L599 204.6L601.5 205.2L605 207.8L611.2 210.2L617.5 212.1L622.5 214L622.5 215L623.8 218.1M590 218.8L593.1 220.6L595.6 223.8L596.2 226.9L595 225L592.5 221.2ZM576.2 199.8L580 200.2L579.4 203.8L579.4 208.1L579.4 206.2L578.8 210.6L575 212.5L570 213.5L566.2 212.5L561.9 210.6L557.5 208.8L556.2 204.4L555 202.1M540 200.6L542.5 199.4L545 200M555 202.1L556.2 204.4L557.5 208.8L553.8 210.6L551.5 212.5L553.8 215.6L555.6 218.1L553.8 218.8L550 220L545 221.2L543.8 222.5L539.4 221.9L538.1 218.8L538.8 216.2L536.9 213.8L534.8 211.9L534.8 210.2L534.4 208.5L535 206.9L536.2 202.8M534.4 202.8L536.2 203.1L535 206.9L534.4 208.5L531.2 209L529.4 207.8M529.4 208.5L531.2 209L534.4 208.5L534.8 210.2L534.8 211.9L534.8 213.8L531.2 213.1L528.1 211.9L526.9 210.2M551.5 212.5L553.8 210.6L557.5 208.8L561.9 210.6L566.2 212.5L565 215.2L560 216.9L555.6 218.1L553.8 215.6ZM565 215.2L566.2 212.5L570 213.5L575 212.5L578.1 214.4L576.2 216.2L575 216.5L570 217.5L566.2 217.8ZM545 221.2L550 220L553.8 218.8L555.6 218.1L560 216.9L565 215.2L566.2 217.8L563.1 220L561.9 223.1L561.2 223.8L556.2 225L555 225L550 224.4L545 224.4L543.8 222.5ZM536.2 223.1L539.4 221.9L543.8 222.5L545 224.4L541.2 226.2L537.5 227.5L535.6 225.6ZM563.1 220L566.2 217.8L570 217.5L575 216.5L576.2 216.2L578.8 219.1L576.2 222.1L572.5 224.6L567.5 225.9L562.5 225.9L561.9 223.1ZM556.2 225L561.2 223.8L562.5 225.9L558.8 226.9ZM558.8 226.9L562.5 225.9L567.5 225.9L572.5 224.6L573.8 227.8L568.8 228.4L565 229.6L567.5 232.2L570 235.4L572.5 237.2L567.5 235M565 229.6L568.8 228.4L573.8 227.8L575 231.2L573.1 234.4L572.5 237.2L570 235.4L567.5 232.2ZM572.5 224.6L576.2 222.1L578.8 225L580 228.8L581.9 232.8L580.6 236.9L578.8 237.5L577.5 237.5L575.6 235.9L575 231.2L573.8 227.8ZM572.5 237.2L573.1 234.4L575.6 235.9L576.2 237.5L576.2 239.8L573.1 240.2ZM576.2 237.5L578.8 237.5L578.1 240.2L576.9 240.6L576.2 239.8ZM572.8 242.5L573.1 240.2L576.2 239.8L576.9 240.6L577.1 243.4L575.6 246.9L573.8 245.6M576.9 240.6L578.1 240.2L580.6 236.9L581.9 240.2L582.8 242.8L579 244L577.1 243.4ZM593.8 233L588.8 233.4L583.8 234L581.9 232.8L580 228.8L578.8 225L576.2 222.1L578.8 219.1L583.8 219.8L590 218.8L592.5 221.2L595 225L596.9 228.1M592.5 238.8L591.9 240L590.2 240.9L585.2 241.5L582.8 242.8L581.9 240.2L580.6 236.9L581.9 232.8L583.8 234L588.8 233.4L593.8 233M576.9 248.8L575.6 246.9L577.1 243.4L579 244L582.8 242.8L585.2 241.5L590.2 240.9L591.9 241.9M542.5 232.2L541.2 232.2L538.1 230.6L537.5 227.5L541.2 226.2L545 224.4L550 224.4L555 225L556.2 225L558.8 226.9L556.2 227.5M526.9 210.2L528.1 211.9L531.2 213.1L534.8 213.8L536.9 213.8L538.8 216.2L538.1 218.8L539.4 221.9L536.2 223.1L535.6 225.6L537.5 227.5L538.1 230.6L541.2 232.2L538.8 233.8M526.9 237.5L522.5 237.8L517.5 236.5M517.5 236.5L522.5 237.8L526.5 238.1M500.6 256.2L498.8 255L499.4 250L500.6 244.4L500 240.6L495.6 240M494.4 240.6L500 240.6L500.6 244.4L499.4 250L498.8 255M498.3 198.7L500 199.3L502.3 200L503 201.3M503.9 198.7L503 200L502.3 200L500 199.3L498.3 198.7L500 197.5M895.8 217L893.3 217.5M893.4 218.5L893.8 218.1M645.6 222.5L642.5 219.4L640.6 215L643.8 210.6L648.8 208.1L654.4 207.5L660 210L667.5 210.6L673.8 211.2L676.9 210.6L674.4 208.1L673.1 203.8L673.8 200.6L680 199.4L686.2 197.5L692.5 196.2L696.2 196.2L700 199.4L706.2 201.2L711.9 198.8L717.5 202.5L723.8 207.5L730 210L736.2 211.2L742.5 213.8L746.9 215.6L745.6 219.4L740.6 221.2L740 227.5L736.9 228.8L735 231.9L737.5 235.6L736.9 238.8L732.5 238.8L725 238.1L717.5 239.4L712.5 240.6L708.8 242.5L705 243.8L701.9 240L697.5 236.2L691.2 235.6L685 233.8L678.8 230L672.5 228.1L670 229.4L671.2 235L672.5 239.4L668.8 238.1L664.4 237.5M670 229.4L672.5 228.1L678.8 230L685 233.8L691.2 235.6L697.5 236.2L701.9 240L705 243.8L708.8 242.5L712.5 240.6L715 241.9L711.9 244.4L708.1 245L705.6 247.5L708.1 250L709.4 253.5L709.1 255.9L705 255.4L703.8 254.4L700 250L695 247.5L690 243.8L685 240.6L680 238.1L676.2 237.5L673.8 240L672.5 239.4L671.2 235ZM664.4 237.5L668.8 238.1L672.5 239.4L673.8 240L676.2 237.5L680 238.1L685 240.6L690 243.8L695 247.5L700 250L703.8 254.4L705 255.4L700.9 256.2L698.4 259.1L695 262.1L691.6 262.9L688.8 260L683.8 255L678.8 252.5L674.4 253.1L670.6 255.6M712.5 240.6L717.5 239.4L725 238.1L732.5 238.8L736.9 238.8L737.5 240.6L733.8 243.1L728.8 245L725 246.2L721.9 248.1L717.5 247.5L712.5 246.9L710 246.2L708.1 245L711.9 244.4L715 241.9ZM705.6 247.5L708.1 245L710 246.2L712.5 246.9L717.5 247.5L721.9 248.1L723.8 250L726.2 252.5L725.4 255.4L723.4 256.2L720 257.1L718.4 256.2L717.9 254.1L716.6 252.4L715 253.4L713.4 255.4L709.1 255.9L709.4 253.5L708.1 250ZM630 235.6L636.2 236.2L642.5 237.5L647.5 240L645 241.2L640.6 243.8L636.2 241.9M640.6 243.8L643.8 243.1L646.2 245L643.8 247.5L642.5 248.8L641.2 246.2ZM653.1 247.5L650.6 248.8M646.2 250L642.5 248.8L643.8 247.5L646.2 245L643.8 243.1L640.6 243.8L645 241.2L647.5 240L647.5 236.9L650 241.9M636.2 242.1L639.7 244.1L641.2 248.1L643.2 253.1L643.7 257.1L640.2 256.1L635.7 256.9L631.2 257.3L626.2 258.1L620.7 259.6M593.1 243.8L591.9 241.9L591.9 240M620.7 259.6L626.2 258.1L631.2 257.3L635.7 256.9L635.7 260.6L634.2 264.6L631.2 267.1L630.7 270.4L627.9 269.4L624.7 270.9L621.7 270.6L622.2 266.9L620.7 267.1L621.2 264.6M620.7 267.1L622.2 266.9L621.7 270.6L621.4 270.9L620.2 270.1ZM619.2 272.2L620.2 270.1L621.4 270.9L621 274.2L620.2 278.2L620 282.2L619.7 281.2L618.7 277.2M621.4 270.9L621.7 270.6L624.7 270.9L627.9 269.4L630.7 270.4L630.2 273.2L627.7 276.2L624.7 279.7L622.2 282.7L620 282.2L620.2 278.2L621 274.2ZM635.7 256.9L640.2 256.1L643.7 257.1L645.8 261.1L647.8 266.1L651.3 270.1L655.3 275.2L656.3 279.4L653.8 281.4L650.3 282.2L646.2 280.7L640.2 276.2L634.2 272.2L630.7 270.4L631.2 267.1L634.2 264.6L635.7 260.6ZM657.3 284.2L655.3 283.7L653.8 281.4L656.3 279.4L657.8 281.2M666.7 294.2L669.2 297.5M671.7 301.7L680 304.2L680.8 308.3L679.2 313.3L672.5 317L646.7 323M622.2 282.7L624.7 279.7L627.7 276.2L630.2 273.2L630.7 270.4L634.2 272.2L640.2 276.2L646.2 280.7L650.3 282.2L653.8 281.4L655.3 283.7L657.3 284.2L659.2 284.2M646.7 323L672.5 317L674.7 323.3M674.7 323.3L672.5 317L679.2 313.3L680.8 308.3L680 304.2L681.7 300L680.8 296.7M680 296.7L680.8 296.7L681.7 300L680 304.2L671.7 301.7M669 295.8L667.5 296.2L667.2 293.3M670.6 256.9L670.6 255.6L674.4 253.1L678.8 252.5L683.8 255L688.8 260L691.6 262.9L691.7 267.5L692.5 271.2L693.3 274.2L695.8 276.7L695.4 279.2L696.7 281.7L698.8 284.2L700.8 286.7L702.5 289.2L701.2 290.8L699.2 294L698.3 294.5M657.5 278.3L656.3 279.4L655.3 275.2L651.3 270.1L647.8 266.1L645.8 261.1L643.7 257.1L643.1 255L642.5 248.8L646.2 250L650.6 248.8L653.1 247.5M691.7 262.9L695 262.1L698.3 259.2L700.8 256.2L705 255.4L709.2 255.8L713.3 255.4L715 253.3L716.7 252.3L717.9 254.2L718.3 256.2L720 257.1L723.3 256.2L725.4 255.4L726.7 256.2L723.3 257.1L720.8 257.9L720 260.8L720.4 264.2L718.3 266.7L717.1 269.2L716.7 272.1L713.8 273.8L711.7 275.8L709.2 278.3L706.7 280.4L701.7 280.8L697.5 280.4L695.4 279.2L695.8 276.7L693.3 274.2L692.5 271.2L691.7 267.5ZM698.3 294.5L699.2 294L701.2 290.8L702.5 289.2L700.8 286.7L698.8 284.2L696.7 281.7L695.4 279.2L697.5 280.4L701.7 280.8L706.7 280.4L709.2 278.3L711.7 275.8L713.8 273.8L716.7 272.1L717.1 269.2L718.3 266.7L720.4 264.2L720 260.8L720.8 257.9L723.3 257.1L726.7 256.2L730 256.7L733.3 258.8L735.4 261.5L731.7 262.5L728.3 263.8L727.9 265.8L730 268.8L733.3 271.7L732.9 275L732.1 278.3L730.8 281.7L728.3 285.4L725.4 287.1L722.1 288.3L720.8 290.4L722.1 292.9L723.3 294L725 298.3M790.8 303.3L788.3 299.2L787.5 295L783.3 294.2L776.7 292.5L775.8 295.8L780 298.3L780.8 304.2M725 298.3L723.3 294L722.1 292.9L720.8 290.4L722.1 288.3L725.4 287.1L728.3 285.4L730.8 281.7L732.1 278.3L732.9 275L733.3 271.7L730 268.8L727.9 265.8L728.3 263.8L731.7 262.5L735.4 261.5L738.3 261.2L740 262.9L741.7 265.8L743.3 268.3L744.6 270.4L743.8 272.5L745.8 275L750 278.3L750 280L750.8 285L760 288.3L775 291.7L775.8 286.7L776.7 286.7L777.5 290.3L785.8 290L786.7 290L794.2 283.3L798.3 282.5L800 286.7L796.7 291.7L794.2 296.7M750 280L754.2 278.3L761.7 282.5L770 285.8L775.8 286.7L775 291.7L760 288.3L750.8 285ZM776.7 286.7L785 286.3L785.8 290L777.5 290.3ZM780.8 304.2L780 298.3L775.8 295.8L776.7 292.5L783.3 294.2L787.5 295L788.3 299.2L789.2 303.3M834.2 309.5L831.7 306.7L829.2 303.3L824.2 303.7L819.2 305.3L815.8 308.3L814.2 310.3L810.8 305.8L807.5 301.7L805 296.7L805.8 291.7L803.3 287.5L800.8 285.8L798.3 282.5L794.2 283.3L786.7 290L785.8 290L785 286.3L776.7 286.7L775.8 286.7L770 285.8L761.7 282.5L754.2 278.3L750 280L750 278.3L745.8 275L743.8 272.5L744.6 270.4L743.3 268.3L741.7 265.8L740 262.9L738.3 261.2L735.4 261.5L733.3 258.8L730 256.7L726.7 256.2L725.4 255.4L726.2 252.5L723.8 250L721.9 248.1L725 246.2L728.8 245L733.8 243.1L737.5 240.6L736.9 238.8L737.5 235.6L735 231.9L736.9 228.8L740 227.5L740.6 221.2L745.6 219.4L746.9 215.6L750 216.2L757.5 221.2L767.5 228.8L780 235L795 237.5L807.5 240L820 236.2L822.5 230L836.2 223.8L825 220L822.5 215L826.2 213L815 214.2L820 213.1L823.8 213.8L828.8 213.1L827.5 210L825 206.2L825.6 203.1L830 201.9L835 202.5L841.2 205.6L846.2 210L851.2 213.8L857.5 216.2L863.1 219.4L867.5 220.6L872.5 219.4L875.6 221.2L875 226.2L873.1 230L875.6 231.2L875 235.6L872.5 238.1L870 240L866.2 243.1L864.4 245.6M750 216.2L757.5 211.8L771.2 213L772.5 207.5L780 209.2L787.5 211.8L800 213L815 214.2L826.2 213L822.5 215L825 220L836.2 223.8L822.5 230L820 236.2L807.5 240L795 237.5L780 235L767.5 228.8L757.5 221.2ZM864.4 245.6L866.2 243.1L870 240L872.5 238.1L875 235.6M890 271L891.9 270M895 268.1L897.5 266.9L901.2 267.5M790.8 304.2L794.2 299.2L795.8 293.3L797.5 289.2L800.8 285.8L803.3 287.5L805.8 291.7L805 296.7L807.5 301.7L810.8 305.8L814.2 310.3L810.8 312.8L807.5 315.3L806.7 320L809.2 325L812.5 331.7L814.2 340L812.5 338.3M815.8 338.3L814.2 340.8M820.6 358.2L819.3 359.5M814.2 340L812.5 331.7L809.2 325L806.7 320L807.5 315.3L810.8 312.8L814.2 310.3L815.8 313.3L820 320L825 316.7L830 320L834.2 325L837.5 331.7L833.3 332.8L826.7 332.8L824.2 335.3L824.2 338.3L821.7 336.7M815.8 308.3L819.2 305.3L824.2 303.7L827.5 305.8L830 310L827.5 314.2L830.8 316.7L835 321.7L837.5 325.8L837.5 331.7L834.2 325L830 320L825 316.7L820 320L815.8 313.3L814.2 310.3ZM831.7 345.8L835.8 342.5L838.3 339.2L837.5 331.7L837.5 325.8L835 321.7L830.8 316.7L827.5 314.2L830 310L827.5 305.8L824.2 303.7L829.2 303.3L831.7 306.7L834.2 309.5M824.2 338.3L824.2 335.3L826.7 332.8L833.3 332.8L837.5 331.7L838.3 339.2L835.8 342.5L831.7 345M819.3 359.5L820.6 358.2M846.1 375.9L851.4 376.6L856.6 375.6L861.2 373.9L864.5 370.7L866.5 366.7L870 366.7M871.1 364.4L870 366.7L866.5 366.7L864.5 370.7L861.2 373.9L856.6 375.6L851.4 376.6L846.1 375.9L850.1 373.9M941.5 389.8L940.9 409.2M940.9 409.2L941.5 389.8M890.1 355.6L890.1 352.3M888.1 352.3L890.1 352.6L889.7 354.9"/>
</svg>
</body></html>
